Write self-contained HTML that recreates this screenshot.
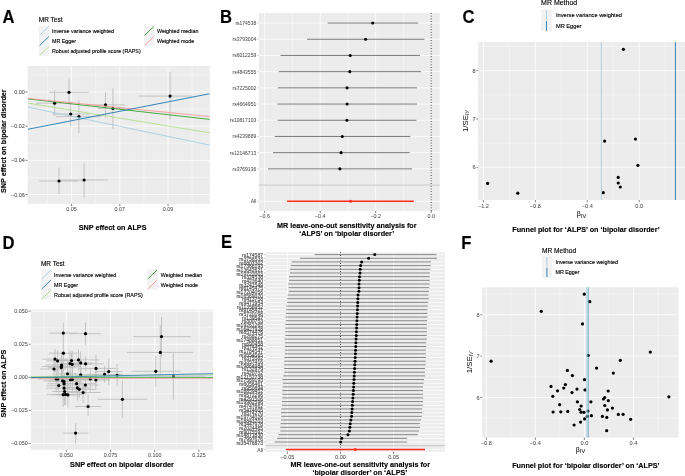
<!DOCTYPE html>
<html><head><meta charset="utf-8"><title>MR figure</title>
<style>
html,body{margin:0;padding:0;background:#fff;}
body{width:685px;height:476px;overflow:hidden;}
svg{display:block;will-change:transform;font-family:"Liberation Sans", sans-serif;}
</style></head><body>
<svg xmlns="http://www.w3.org/2000/svg" width="685" height="476" viewBox="0 0 685 476">
<rect x="0" y="0" width="685" height="476" fill="#fff"/>
<text x="2.6" y="22.7" font-size="16.6" text-anchor="start" fill="#000" stroke="#000" stroke-width="0.13" font-weight="bold" transform="translate(0 -1.005) scale(1 1.06)">A</text>
<text x="38.8" y="21.7" font-size="6.5" text-anchor="start" fill="#000" stroke="#000" stroke-width="0.13" transform="translate(0 -1.162) scale(1 1.06)">MR Test</text>
<rect x="39" y="25.9" width="10.4" height="30.3" fill="#F2F2F2"/>
<line x1="39.6" y1="35.4" x2="48.8" y2="26.5" stroke="#a6cee3" stroke-width="0.9"/>
<text x="52" y="32.87" font-size="5.35" text-anchor="start" fill="#000" stroke="#000" stroke-width="0.13" transform="translate(0 -1.857) scale(1 1.06)">Inverse variance weighted</text>
<line x1="39.6" y1="45.5" x2="48.8" y2="36.6" stroke="#1f78b4" stroke-width="0.9"/>
<text x="52" y="42.97" font-size="5.35" text-anchor="start" fill="#000" stroke="#000" stroke-width="0.13" transform="translate(0 -2.463) scale(1 1.06)">MR Egger</text>
<line x1="39.6" y1="55.6" x2="48.8" y2="46.7" stroke="#b2df8a" stroke-width="0.9"/>
<text x="52" y="53.07" font-size="5.35" text-anchor="start" fill="#000" stroke="#000" stroke-width="0.13" transform="translate(0 -3.069) scale(1 1.06)">Robust adjusted profile score (RAPS)</text>
<rect x="144" y="25.9" width="10.4" height="20.2" fill="#F2F2F2"/>
<line x1="144.6" y1="35.4" x2="153.8" y2="26.5" stroke="#33a02c" stroke-width="0.9"/>
<text x="157" y="32.87" font-size="5.35" text-anchor="start" fill="#000" stroke="#000" stroke-width="0.13" transform="translate(0 -1.857) scale(1 1.06)">Weighted median</text>
<line x1="144.6" y1="45.5" x2="153.8" y2="36.6" stroke="#fb9a99" stroke-width="0.9"/>
<text x="157" y="42.97" font-size="5.35" text-anchor="start" fill="#000" stroke="#000" stroke-width="0.13" transform="translate(0 -2.463) scale(1 1.06)">Weighted mode</text>
<rect x="27.7" y="66" width="182.1" height="137.8" fill="#EBECEB"/>
<line x1="47.5" y1="66" x2="47.5" y2="203.8" stroke="#fff" stroke-width="0.4"/>
<line x1="95.7" y1="66" x2="95.7" y2="203.8" stroke="#fff" stroke-width="0.4"/>
<line x1="143.9" y1="66" x2="143.9" y2="203.8" stroke="#fff" stroke-width="0.4"/>
<line x1="192.1" y1="66" x2="192.1" y2="203.8" stroke="#fff" stroke-width="0.4"/>
<line x1="27.7" y1="74.92" x2="209.8" y2="74.92" stroke="#fff" stroke-width="0.4"/>
<line x1="27.7" y1="109.08" x2="209.8" y2="109.08" stroke="#fff" stroke-width="0.4"/>
<line x1="27.7" y1="143.24" x2="209.8" y2="143.24" stroke="#fff" stroke-width="0.4"/>
<line x1="27.7" y1="177.4" x2="209.8" y2="177.4" stroke="#fff" stroke-width="0.4"/>
<line x1="71.6" y1="66" x2="71.6" y2="203.8" stroke="#fff" stroke-width="0.8"/>
<line x1="119.8" y1="66" x2="119.8" y2="203.8" stroke="#fff" stroke-width="0.8"/>
<line x1="168" y1="66" x2="168" y2="203.8" stroke="#fff" stroke-width="0.8"/>
<line x1="27.7" y1="92" x2="209.8" y2="92" stroke="#fff" stroke-width="0.8"/>
<line x1="27.7" y1="126.16" x2="209.8" y2="126.16" stroke="#fff" stroke-width="0.8"/>
<line x1="27.7" y1="160.32" x2="209.8" y2="160.32" stroke="#fff" stroke-width="0.8"/>
<line x1="27.7" y1="194.48" x2="209.8" y2="194.48" stroke="#fff" stroke-width="0.8"/>
<clipPath id="ca"><rect x="27.7" y="66" width="182.1" height="137.8"/></clipPath>
<g clip-path="url(#ca)">
<line x1="36.2" y1="103.2" x2="73" y2="103.2" stroke="#BEBEBE" stroke-width="0.9"/>
<line x1="54.6" y1="90.2" x2="54.6" y2="115.8" stroke="#BEBEBE" stroke-width="0.9"/>
<line x1="48.9" y1="92.3" x2="88.8" y2="92.3" stroke="#BEBEBE" stroke-width="0.9"/>
<line x1="69" y1="78.5" x2="69" y2="104.5" stroke="#BEBEBE" stroke-width="0.9"/>
<line x1="52.3" y1="114.1" x2="89.6" y2="114.1" stroke="#BEBEBE" stroke-width="0.9"/>
<line x1="70.7" y1="101.4" x2="70.7" y2="126.7" stroke="#BEBEBE" stroke-width="0.9"/>
<line x1="55.8" y1="116.6" x2="101.4" y2="116.6" stroke="#BEBEBE" stroke-width="0.9"/>
<line x1="78.9" y1="100.3" x2="78.9" y2="133.1" stroke="#BEBEBE" stroke-width="0.9"/>
<line x1="83.6" y1="104.9" x2="125" y2="104.9" stroke="#BEBEBE" stroke-width="0.9"/>
<line x1="105.5" y1="92.1" x2="105.5" y2="117.5" stroke="#BEBEBE" stroke-width="0.9"/>
<line x1="98" y1="108.5" x2="125" y2="108.5" stroke="#BEBEBE" stroke-width="0.9"/>
<line x1="112.9" y1="88.3" x2="112.9" y2="128.8" stroke="#BEBEBE" stroke-width="0.9"/>
<line x1="138.9" y1="96.1" x2="192" y2="96.1" stroke="#BEBEBE" stroke-width="0.9"/>
<line x1="170.1" y1="72.1" x2="170.1" y2="119.7" stroke="#BEBEBE" stroke-width="0.9"/>
<line x1="39.3" y1="181" x2="78.7" y2="181" stroke="#BEBEBE" stroke-width="0.9"/>
<line x1="59" y1="167.5" x2="59" y2="194.4" stroke="#BEBEBE" stroke-width="0.9"/>
<line x1="60.3" y1="180" x2="108.2" y2="180" stroke="#BEBEBE" stroke-width="0.9"/>
<line x1="84.1" y1="162.8" x2="84.1" y2="197.4" stroke="#BEBEBE" stroke-width="0.9"/>
<circle cx="54.6" cy="103.2" r="1.6" fill="#000"/>
<circle cx="69" cy="92.3" r="1.6" fill="#000"/>
<circle cx="70.7" cy="114.1" r="1.6" fill="#000"/>
<circle cx="78.9" cy="116.6" r="1.6" fill="#000"/>
<circle cx="105.5" cy="104.9" r="1.6" fill="#000"/>
<circle cx="112.9" cy="108.5" r="1.6" fill="#000"/>
<circle cx="170.1" cy="96.1" r="1.6" fill="#000"/>
<circle cx="59" cy="181" r="1.6" fill="#000"/>
<circle cx="84.1" cy="180" r="1.6" fill="#000"/>
<line x1="27.7" y1="107.1" x2="209.8" y2="145.1" stroke="#a6cee3" stroke-width="0.9"/>
<line x1="27.7" y1="103.1" x2="209.8" y2="132.8" stroke="#b2df8a" stroke-width="0.9"/>
<line x1="27.7" y1="98.9" x2="209.8" y2="119.4" stroke="#33a02c" stroke-width="0.9"/>
<line x1="27.7" y1="98.4" x2="209.8" y2="116.6" stroke="#fb9a99" stroke-width="0.9"/>
<line x1="27.7" y1="129.3" x2="209.8" y2="93.7" stroke="#1f78b4" stroke-width="0.9"/>
</g>
<text x="24.9" y="93.97" font-size="5.5" text-anchor="end" fill="#4D4D4D" stroke="#4D4D4D" stroke-width="0.04" transform="translate(0 -5.520) scale(1 1.06)">0.00</text>
<line x1="25.5" y1="92" x2="27.7" y2="92" stroke="#333333" stroke-width="0.6"/>
<text x="24.9" y="128.13" font-size="5.5" text-anchor="end" fill="#4D4D4D" stroke="#4D4D4D" stroke-width="0.04" transform="translate(0 -7.570) scale(1 1.06)">−0.02</text>
<line x1="25.5" y1="126.16" x2="27.7" y2="126.16" stroke="#333333" stroke-width="0.6"/>
<text x="24.9" y="162.29" font-size="5.5" text-anchor="end" fill="#4D4D4D" stroke="#4D4D4D" stroke-width="0.04" transform="translate(0 -9.619) scale(1 1.06)">−0.04</text>
<line x1="25.5" y1="160.32" x2="27.7" y2="160.32" stroke="#333333" stroke-width="0.6"/>
<text x="24.9" y="196.45" font-size="5.5" text-anchor="end" fill="#4D4D4D" stroke="#4D4D4D" stroke-width="0.04" transform="translate(0 -11.669) scale(1 1.06)">−0.06</text>
<line x1="25.5" y1="194.48" x2="27.7" y2="194.48" stroke="#333333" stroke-width="0.6"/>
<text x="71.6" y="210.73" font-size="5.4" text-anchor="middle" fill="#4D4D4D" stroke="#4D4D4D" stroke-width="0.04" transform="translate(0 -12.528) scale(1 1.06)">0.05</text>
<line x1="71.6" y1="203.8" x2="71.6" y2="206.1" stroke="#333333" stroke-width="0.6"/>
<text x="119.8" y="210.73" font-size="5.4" text-anchor="middle" fill="#4D4D4D" stroke="#4D4D4D" stroke-width="0.04" transform="translate(0 -12.528) scale(1 1.06)">0.07</text>
<line x1="119.8" y1="203.8" x2="119.8" y2="206.1" stroke="#333333" stroke-width="0.6"/>
<text x="168" y="210.73" font-size="5.4" text-anchor="middle" fill="#4D4D4D" stroke="#4D4D4D" stroke-width="0.04" transform="translate(0 -12.528) scale(1 1.06)">0.09</text>
<line x1="168" y1="203.8" x2="168" y2="206.1" stroke="#333333" stroke-width="0.6"/>
<text x="112.6" y="229.79" font-size="7.23" text-anchor="middle" fill="#000" stroke="#000" stroke-width="0.13" font-weight="bold" transform="translate(0 -13.632) scale(1 1.06)">SNP effect on ALPS</text>
<text x="6.1" y="141.2" font-size="7.23" text-anchor="middle" fill="#000" stroke="#000" stroke-width="0.13" font-weight="bold" transform="rotate(-90 6.1 141.2)">SNP effect on bipolar disorder</text>
<text x="219.9" y="22.7" font-size="16.6" text-anchor="start" fill="#000" stroke="#000" stroke-width="0.13" font-weight="bold" transform="translate(0 -1.005) scale(1 1.06)">B</text>
<rect x="258.8" y="13" width="180.9" height="197.8" fill="#EBECEB"/>
<line x1="292.45" y1="13" x2="292.45" y2="210.8" stroke="#fff" stroke-width="0.4"/>
<line x1="347.95" y1="13" x2="347.95" y2="210.8" stroke="#fff" stroke-width="0.4"/>
<line x1="403.45" y1="13" x2="403.45" y2="210.8" stroke="#fff" stroke-width="0.4"/>
<line x1="264.7" y1="13" x2="264.7" y2="210.8" stroke="#fff" stroke-width="0.8"/>
<line x1="320.2" y1="13" x2="320.2" y2="210.8" stroke="#fff" stroke-width="0.8"/>
<line x1="375.7" y1="13" x2="375.7" y2="210.8" stroke="#fff" stroke-width="0.8"/>
<line x1="431.2" y1="13" x2="431.2" y2="210.8" stroke="#fff" stroke-width="0.8"/>
<line x1="258.8" y1="23.05" x2="439.7" y2="23.05" stroke="#fff" stroke-width="0.8"/>
<line x1="258.8" y1="39.25" x2="439.7" y2="39.25" stroke="#fff" stroke-width="0.8"/>
<line x1="258.8" y1="55.45" x2="439.7" y2="55.45" stroke="#fff" stroke-width="0.8"/>
<line x1="258.8" y1="71.65" x2="439.7" y2="71.65" stroke="#fff" stroke-width="0.8"/>
<line x1="258.8" y1="87.85" x2="439.7" y2="87.85" stroke="#fff" stroke-width="0.8"/>
<line x1="258.8" y1="104.05" x2="439.7" y2="104.05" stroke="#fff" stroke-width="0.8"/>
<line x1="258.8" y1="120.25" x2="439.7" y2="120.25" stroke="#fff" stroke-width="0.8"/>
<line x1="258.8" y1="136.45" x2="439.7" y2="136.45" stroke="#fff" stroke-width="0.8"/>
<line x1="258.8" y1="152.65" x2="439.7" y2="152.65" stroke="#fff" stroke-width="0.8"/>
<line x1="258.8" y1="168.85" x2="439.7" y2="168.85" stroke="#fff" stroke-width="0.8"/>
<line x1="258.8" y1="185.05" x2="439.7" y2="185.05" stroke="#fff" stroke-width="0.8"/>
<line x1="258.8" y1="201.25" x2="439.7" y2="201.25" stroke="#fff" stroke-width="0.8"/>
<line x1="431.2" y1="13" x2="431.2" y2="210.8" stroke="#111" stroke-width="0.9" stroke-dasharray="0.9 1.8"/>
<line x1="258.8" y1="185.05" x2="439.7" y2="185.05" stroke="#BEBEBE" stroke-width="0.9"/>
<line x1="327.7" y1="23.05" x2="418.2" y2="23.05" stroke="#7a7a7a" stroke-width="1"/>
<circle cx="372.7" cy="23.05" r="1.55" fill="#000"/>
<line x1="307" y1="39.25" x2="424.5" y2="39.25" stroke="#7a7a7a" stroke-width="1"/>
<circle cx="365.6" cy="39.25" r="1.55" fill="#000"/>
<line x1="280.5" y1="55.45" x2="420" y2="55.45" stroke="#7a7a7a" stroke-width="1"/>
<circle cx="350.2" cy="55.45" r="1.55" fill="#000"/>
<line x1="278.8" y1="71.65" x2="421.1" y2="71.65" stroke="#7a7a7a" stroke-width="1"/>
<circle cx="349.8" cy="71.65" r="1.55" fill="#000"/>
<line x1="277.8" y1="87.85" x2="417" y2="87.85" stroke="#7a7a7a" stroke-width="1"/>
<circle cx="347.1" cy="87.85" r="1.55" fill="#000"/>
<line x1="277.4" y1="104.05" x2="417" y2="104.05" stroke="#7a7a7a" stroke-width="1"/>
<circle cx="347.1" cy="104.05" r="1.55" fill="#000"/>
<line x1="277.6" y1="120.25" x2="416.5" y2="120.25" stroke="#7a7a7a" stroke-width="1"/>
<circle cx="346.9" cy="120.25" r="1.55" fill="#000"/>
<line x1="274.7" y1="136.45" x2="410.4" y2="136.45" stroke="#7a7a7a" stroke-width="1"/>
<circle cx="342.3" cy="136.45" r="1.55" fill="#000"/>
<line x1="273" y1="152.65" x2="409.7" y2="152.65" stroke="#7a7a7a" stroke-width="1"/>
<circle cx="341.1" cy="152.65" r="1.55" fill="#000"/>
<line x1="268" y1="168.85" x2="412.1" y2="168.85" stroke="#7a7a7a" stroke-width="1"/>
<circle cx="339.9" cy="168.85" r="1.55" fill="#000"/>
<line x1="287.1" y1="201.25" x2="413.8" y2="201.25" stroke="#ff2a1a" stroke-width="1.5"/>
<circle cx="350.5" cy="201.25" r="1.55" fill="#ff2a1a"/>
<text x="256.2" y="24.84" font-size="5" text-anchor="end" fill="#4D4D4D" stroke="#4D4D4D" stroke-width="0.04" transform="translate(0 -1.383) scale(1 1.06)">rs174538</text>
<text x="256.2" y="41.04" font-size="5" text-anchor="end" fill="#4D4D4D" stroke="#4D4D4D" stroke-width="0.04" transform="translate(0 -2.355) scale(1 1.06)">rs3793004</text>
<text x="256.2" y="57.24" font-size="5" text-anchor="end" fill="#4D4D4D" stroke="#4D4D4D" stroke-width="0.04" transform="translate(0 -3.327) scale(1 1.06)">rs6012259</text>
<text x="256.2" y="73.44" font-size="5" text-anchor="end" fill="#4D4D4D" stroke="#4D4D4D" stroke-width="0.04" transform="translate(0 -4.299) scale(1 1.06)">rs4843555</text>
<text x="256.2" y="89.64" font-size="5" text-anchor="end" fill="#4D4D4D" stroke="#4D4D4D" stroke-width="0.04" transform="translate(0 -5.271) scale(1 1.06)">rs7225002</text>
<text x="256.2" y="105.84" font-size="5" text-anchor="end" fill="#4D4D4D" stroke="#4D4D4D" stroke-width="0.04" transform="translate(0 -6.243) scale(1 1.06)">rs4664951</text>
<text x="256.2" y="122.04" font-size="5" text-anchor="end" fill="#4D4D4D" stroke="#4D4D4D" stroke-width="0.04" transform="translate(0 -7.215) scale(1 1.06)">rs10817103</text>
<text x="256.2" y="138.24" font-size="5" text-anchor="end" fill="#4D4D4D" stroke="#4D4D4D" stroke-width="0.04" transform="translate(0 -8.187) scale(1 1.06)">rs4239889</text>
<text x="256.2" y="154.44" font-size="5" text-anchor="end" fill="#4D4D4D" stroke="#4D4D4D" stroke-width="0.04" transform="translate(0 -9.159) scale(1 1.06)">rs12146713</text>
<text x="256.2" y="170.64" font-size="5" text-anchor="end" fill="#4D4D4D" stroke="#4D4D4D" stroke-width="0.04" transform="translate(0 -10.131) scale(1 1.06)">rs3769136</text>
<text x="256.2" y="203.04" font-size="5" text-anchor="end" fill="#4D4D4D" stroke="#4D4D4D" stroke-width="0.04" transform="translate(0 -12.075) scale(1 1.06)">All</text>
<line x1="257.2" y1="23.05" x2="258.8" y2="23.05" stroke="#c4c4c4" stroke-width="0.6"/>
<line x1="257.2" y1="39.25" x2="258.8" y2="39.25" stroke="#c4c4c4" stroke-width="0.6"/>
<line x1="257.2" y1="55.45" x2="258.8" y2="55.45" stroke="#c4c4c4" stroke-width="0.6"/>
<line x1="257.2" y1="71.65" x2="258.8" y2="71.65" stroke="#c4c4c4" stroke-width="0.6"/>
<line x1="257.2" y1="87.85" x2="258.8" y2="87.85" stroke="#c4c4c4" stroke-width="0.6"/>
<line x1="257.2" y1="104.05" x2="258.8" y2="104.05" stroke="#c4c4c4" stroke-width="0.6"/>
<line x1="257.2" y1="120.25" x2="258.8" y2="120.25" stroke="#c4c4c4" stroke-width="0.6"/>
<line x1="257.2" y1="136.45" x2="258.8" y2="136.45" stroke="#c4c4c4" stroke-width="0.6"/>
<line x1="257.2" y1="152.65" x2="258.8" y2="152.65" stroke="#c4c4c4" stroke-width="0.6"/>
<line x1="257.2" y1="168.85" x2="258.8" y2="168.85" stroke="#c4c4c4" stroke-width="0.6"/>
<line x1="257.2" y1="201.25" x2="258.8" y2="201.25" stroke="#c4c4c4" stroke-width="0.6"/>
<text x="264.7" y="218.13" font-size="5.4" text-anchor="middle" fill="#4D4D4D" stroke="#4D4D4D" stroke-width="0.04" transform="translate(0 -12.972) scale(1 1.06)">−0.6</text>
<line x1="264.7" y1="210.8" x2="264.7" y2="213.1" stroke="#333333" stroke-width="0.6"/>
<text x="320.2" y="218.13" font-size="5.4" text-anchor="middle" fill="#4D4D4D" stroke="#4D4D4D" stroke-width="0.04" transform="translate(0 -12.972) scale(1 1.06)">−0.4</text>
<line x1="320.2" y1="210.8" x2="320.2" y2="213.1" stroke="#333333" stroke-width="0.6"/>
<text x="375.7" y="218.13" font-size="5.4" text-anchor="middle" fill="#4D4D4D" stroke="#4D4D4D" stroke-width="0.04" transform="translate(0 -12.972) scale(1 1.06)">−0.2</text>
<line x1="375.7" y1="210.8" x2="375.7" y2="213.1" stroke="#333333" stroke-width="0.6"/>
<text x="431.2" y="218.13" font-size="5.4" text-anchor="middle" fill="#4D4D4D" stroke="#4D4D4D" stroke-width="0.04" transform="translate(0 -12.972) scale(1 1.06)">0.0</text>
<line x1="431.2" y1="210.8" x2="431.2" y2="213.1" stroke="#333333" stroke-width="0.6"/>
<text x="346.8" y="227.39" font-size="7.23" text-anchor="middle" fill="#000" stroke="#000" stroke-width="0.13" font-weight="bold" transform="translate(0 -13.488) scale(1 1.06)">MR leave-one-out sensitivity analysis for</text>
<text x="346.7" y="235.99" font-size="7.23" text-anchor="middle" fill="#000" stroke="#000" stroke-width="0.13" font-weight="bold" transform="translate(0 -14.004) scale(1 1.06)">‘ALPS’ on ‘bipolar disorder’</text>
<text x="462.6" y="23" font-size="16.6" text-anchor="start" fill="#000" stroke="#000" stroke-width="0.13" font-weight="bold" transform="translate(0 -1.023) scale(1 1.06)">C</text>
<rect x="478.2" y="42.1" width="206.8" height="157.9" fill="#EBECEB"/>
<line x1="509.4" y1="42.1" x2="509.4" y2="200" stroke="#fff" stroke-width="0.4"/>
<line x1="561.32" y1="42.1" x2="561.32" y2="200" stroke="#fff" stroke-width="0.4"/>
<line x1="613.24" y1="42.1" x2="613.24" y2="200" stroke="#fff" stroke-width="0.4"/>
<line x1="665.16" y1="42.1" x2="665.16" y2="200" stroke="#fff" stroke-width="0.4"/>
<line x1="478.2" y1="46.43" x2="685" y2="46.43" stroke="#fff" stroke-width="0.4"/>
<line x1="478.2" y1="94.78" x2="685" y2="94.78" stroke="#fff" stroke-width="0.4"/>
<line x1="478.2" y1="143.12" x2="685" y2="143.12" stroke="#fff" stroke-width="0.4"/>
<line x1="483.44" y1="42.1" x2="483.44" y2="200" stroke="#fff" stroke-width="0.8"/>
<line x1="535.36" y1="42.1" x2="535.36" y2="200" stroke="#fff" stroke-width="0.8"/>
<line x1="587.28" y1="42.1" x2="587.28" y2="200" stroke="#fff" stroke-width="0.8"/>
<line x1="639.2" y1="42.1" x2="639.2" y2="200" stroke="#fff" stroke-width="0.8"/>
<line x1="478.2" y1="70.6" x2="685" y2="70.6" stroke="#fff" stroke-width="0.8"/>
<line x1="478.2" y1="118.95" x2="685" y2="118.95" stroke="#fff" stroke-width="0.8"/>
<line x1="478.2" y1="167.3" x2="685" y2="167.3" stroke="#fff" stroke-width="0.8"/>
<circle cx="623.4" cy="49.3" r="1.6" fill="#000"/>
<circle cx="604.6" cy="141.1" r="1.6" fill="#000"/>
<circle cx="635.4" cy="139.1" r="1.6" fill="#000"/>
<circle cx="637.9" cy="165.3" r="1.6" fill="#000"/>
<circle cx="618.2" cy="177.4" r="1.6" fill="#000"/>
<circle cx="618.2" cy="183" r="1.6" fill="#000"/>
<circle cx="620.3" cy="187" r="1.6" fill="#000"/>
<circle cx="603.3" cy="192.7" r="1.6" fill="#000"/>
<circle cx="487.6" cy="183.4" r="1.6" fill="#000"/>
<circle cx="517.8" cy="193.2" r="1.6" fill="#000"/>
<line x1="601.4" y1="42.1" x2="601.4" y2="200" stroke="#a6cee3" stroke-width="0.9"/>
<line x1="675.4" y1="42.1" x2="675.4" y2="200" stroke="#1f78b4" stroke-width="0.9"/>
<text x="475.6" y="72.6" font-size="5.6" text-anchor="end" fill="#4D4D4D" stroke="#4D4D4D" stroke-width="0.04" transform="translate(0 -4.236) scale(1 1.06)">8</text>
<line x1="476.4" y1="70.6" x2="478.2" y2="70.6" stroke="#333333" stroke-width="0.6"/>
<text x="475.6" y="120.95" font-size="5.6" text-anchor="end" fill="#4D4D4D" stroke="#4D4D4D" stroke-width="0.04" transform="translate(0 -7.137) scale(1 1.06)">7</text>
<line x1="476.4" y1="118.95" x2="478.2" y2="118.95" stroke="#333333" stroke-width="0.6"/>
<text x="475.6" y="169.3" font-size="5.6" text-anchor="end" fill="#4D4D4D" stroke="#4D4D4D" stroke-width="0.04" transform="translate(0 -10.038) scale(1 1.06)">6</text>
<line x1="476.4" y1="167.3" x2="478.2" y2="167.3" stroke="#333333" stroke-width="0.6"/>
<text x="483.44" y="208" font-size="5.6" text-anchor="middle" fill="#4D4D4D" stroke="#4D4D4D" stroke-width="0.04" transform="translate(0 -12.360) scale(1 1.06)">−1.2</text>
<line x1="483.44" y1="200" x2="483.44" y2="202.3" stroke="#333333" stroke-width="0.6"/>
<text x="535.36" y="208" font-size="5.6" text-anchor="middle" fill="#4D4D4D" stroke="#4D4D4D" stroke-width="0.04" transform="translate(0 -12.360) scale(1 1.06)">−0.8</text>
<line x1="535.36" y1="200" x2="535.36" y2="202.3" stroke="#333333" stroke-width="0.6"/>
<text x="587.28" y="208" font-size="5.6" text-anchor="middle" fill="#4D4D4D" stroke="#4D4D4D" stroke-width="0.04" transform="translate(0 -12.360) scale(1 1.06)">−0.4</text>
<line x1="587.28" y1="200" x2="587.28" y2="202.3" stroke="#333333" stroke-width="0.6"/>
<text x="639.2" y="208" font-size="5.6" text-anchor="middle" fill="#4D4D4D" stroke="#4D4D4D" stroke-width="0.04" transform="translate(0 -12.360) scale(1 1.06)">0.0</text>
<line x1="639.2" y1="200" x2="639.2" y2="202.3" stroke="#333333" stroke-width="0.6"/>
<text x="541.1" y="5.2" font-size="7" text-anchor="start" fill="#000" stroke="#000" stroke-width="0.13" transform="translate(0 -0.162) scale(1 1.06)">MR Method</text>
<rect x="541.1" y="9.5" width="10.7" height="21.8" fill="#F2F2F2"/>
<line x1="546.45" y1="10.1" x2="546.45" y2="19.8" stroke="#a6cee3" stroke-width="0.9"/>
<line x1="546.45" y1="21" x2="546.45" y2="30.7" stroke="#1f78b4" stroke-width="0.9"/>
<text x="555.9" y="16.99" font-size="5.7" text-anchor="start" fill="#000" stroke="#000" stroke-width="0.13" transform="translate(0 -0.897) scale(1 1.06)">Inverse variance weighted</text>
<text x="555.9" y="27.89" font-size="5.7" text-anchor="start" fill="#000" stroke="#000" stroke-width="0.13" transform="translate(0 -1.551) scale(1 1.06)">MR Egger</text>
<text transform="translate(467.9,121.2) rotate(-90)" font-size="7.8" text-anchor="middle" fill="#000">1/SE<tspan font-size="4.9" font-style="italic" dy="1.1">IV</tspan></text>
<text x="581.5" y="216.0" font-size="7.0" text-anchor="middle" fill="#222" stroke="#222" stroke-width="0.1">β<tspan font-size="5.6" dy="1.5">IV</tspan></text>
<text x="586" y="231.49" font-size="7.23" text-anchor="middle" fill="#000" stroke="#000" stroke-width="0.13" font-weight="bold" transform="translate(0 -13.734) scale(1 1.06)">Funnel plot for ‘ALPS’ on ‘bipolar disorder’</text>
<text x="2.6" y="248.4" font-size="16.6" text-anchor="start" fill="#000" stroke="#000" stroke-width="0.13" font-weight="bold" transform="translate(0 -14.547) scale(1 1.06)">D</text>
<text x="40.9" y="265.9" font-size="6.5" text-anchor="start" fill="#000" stroke="#000" stroke-width="0.13" transform="translate(0 -15.814) scale(1 1.06)">MR Test</text>
<rect x="41.1" y="269.4" width="10.4" height="30.3" fill="#F2F2F2"/>
<line x1="41.7" y1="278.9" x2="50.9" y2="270" stroke="#a6cee3" stroke-width="0.9"/>
<text x="54.1" y="277.07" font-size="5.35" text-anchor="start" fill="#000" stroke="#000" stroke-width="0.13" transform="translate(0 -16.509) scale(1 1.06)">Inverse variance weighted</text>
<line x1="41.7" y1="289" x2="50.9" y2="280.1" stroke="#1f78b4" stroke-width="0.9"/>
<text x="54.1" y="287.17" font-size="5.35" text-anchor="start" fill="#000" stroke="#000" stroke-width="0.13" transform="translate(0 -17.115) scale(1 1.06)">MR Egger</text>
<line x1="41.7" y1="299.1" x2="50.9" y2="290.2" stroke="#b2df8a" stroke-width="0.9"/>
<text x="54.1" y="297.27" font-size="5.35" text-anchor="start" fill="#000" stroke="#000" stroke-width="0.13" transform="translate(0 -17.721) scale(1 1.06)">Robust adjusted profile score (RAPS)</text>
<rect x="147.2" y="269.4" width="10.4" height="20.2" fill="#F2F2F2"/>
<line x1="147.8" y1="278.9" x2="157" y2="270" stroke="#33a02c" stroke-width="0.9"/>
<text x="160.8" y="277.07" font-size="5.35" text-anchor="start" fill="#000" stroke="#000" stroke-width="0.13" transform="translate(0 -16.509) scale(1 1.06)">Weighted median</text>
<line x1="147.8" y1="289" x2="157" y2="280.1" stroke="#fb9a99" stroke-width="0.9"/>
<text x="160.8" y="287.17" font-size="5.35" text-anchor="start" fill="#000" stroke="#000" stroke-width="0.13" transform="translate(0 -17.115) scale(1 1.06)">Weighted mode</text>
<rect x="30.8" y="309.6" width="182.3" height="140.2" fill="#EBECEB"/>
<line x1="44.2" y1="309.6" x2="44.2" y2="449.8" stroke="#fff" stroke-width="0.4"/>
<line x1="88.4" y1="309.6" x2="88.4" y2="449.8" stroke="#fff" stroke-width="0.4"/>
<line x1="132.6" y1="309.6" x2="132.6" y2="449.8" stroke="#fff" stroke-width="0.4"/>
<line x1="176.8" y1="309.6" x2="176.8" y2="449.8" stroke="#fff" stroke-width="0.4"/>
<line x1="30.8" y1="327.69" x2="213.1" y2="327.69" stroke="#fff" stroke-width="0.4"/>
<line x1="30.8" y1="360.76" x2="213.1" y2="360.76" stroke="#fff" stroke-width="0.4"/>
<line x1="30.8" y1="393.84" x2="213.1" y2="393.84" stroke="#fff" stroke-width="0.4"/>
<line x1="30.8" y1="426.91" x2="213.1" y2="426.91" stroke="#fff" stroke-width="0.4"/>
<line x1="66.3" y1="309.6" x2="66.3" y2="449.8" stroke="#fff" stroke-width="0.8"/>
<line x1="110.5" y1="309.6" x2="110.5" y2="449.8" stroke="#fff" stroke-width="0.8"/>
<line x1="154.7" y1="309.6" x2="154.7" y2="449.8" stroke="#fff" stroke-width="0.8"/>
<line x1="198.9" y1="309.6" x2="198.9" y2="449.8" stroke="#fff" stroke-width="0.8"/>
<line x1="30.8" y1="311.15" x2="213.1" y2="311.15" stroke="#fff" stroke-width="0.8"/>
<line x1="30.8" y1="344.23" x2="213.1" y2="344.23" stroke="#fff" stroke-width="0.8"/>
<line x1="30.8" y1="377.3" x2="213.1" y2="377.3" stroke="#fff" stroke-width="0.8"/>
<line x1="30.8" y1="410.38" x2="213.1" y2="410.38" stroke="#fff" stroke-width="0.8"/>
<line x1="30.8" y1="443.45" x2="213.1" y2="443.45" stroke="#fff" stroke-width="0.8"/>
<clipPath id="cd"><rect x="30.8" y="309.6" width="182.3" height="140.2"/></clipPath>
<g clip-path="url(#cd)">
<line x1="49.3" y1="333.1" x2="77.6" y2="333.1" stroke="#BDBDBD" stroke-width="0.85"/>
<line x1="63.3" y1="322.6" x2="63.3" y2="345.3" stroke="#BDBDBD" stroke-width="0.85"/>
<line x1="70" y1="333.7" x2="100.6" y2="333.7" stroke="#BDBDBD" stroke-width="0.85"/>
<line x1="85.5" y1="322.3" x2="85.5" y2="345.3" stroke="#BDBDBD" stroke-width="0.85"/>
<line x1="48.9" y1="353.2" x2="77.9" y2="353.2" stroke="#BDBDBD" stroke-width="0.85"/>
<line x1="63.4" y1="345" x2="63.4" y2="372" stroke="#BDBDBD" stroke-width="0.85"/>
<line x1="42.2" y1="359.1" x2="68" y2="359.1" stroke="#BDBDBD" stroke-width="0.85"/>
<line x1="55" y1="349" x2="55" y2="372" stroke="#BDBDBD" stroke-width="0.85"/>
<line x1="46.32" y1="360.9" x2="70.98" y2="360.9" stroke="#BDBDBD" stroke-width="0.85"/>
<line x1="57.6" y1="350.09" x2="57.6" y2="372.32" stroke="#BDBDBD" stroke-width="0.85"/>
<line x1="60.3" y1="360.6" x2="81.92" y2="360.6" stroke="#BDBDBD" stroke-width="0.85"/>
<line x1="71.5" y1="353.51" x2="71.5" y2="367.4" stroke="#BDBDBD" stroke-width="0.85"/>
<line x1="57.53" y1="359.9" x2="99.31" y2="359.9" stroke="#BDBDBD" stroke-width="0.85"/>
<line x1="78.5" y1="349.61" x2="78.5" y2="370.81" stroke="#BDBDBD" stroke-width="0.85"/>
<line x1="68.5" y1="362.9" x2="92.86" y2="362.9" stroke="#BDBDBD" stroke-width="0.85"/>
<line x1="80.7" y1="351.46" x2="80.7" y2="375.32" stroke="#BDBDBD" stroke-width="0.85"/>
<line x1="68.43" y1="363.8" x2="103.61" y2="363.8" stroke="#BDBDBD" stroke-width="0.85"/>
<line x1="85.6" y1="356.35" x2="85.6" y2="371.06" stroke="#BDBDBD" stroke-width="0.85"/>
<line x1="60.29" y1="363.5" x2="81.5" y2="363.5" stroke="#BDBDBD" stroke-width="0.85"/>
<line x1="70" y1="350.44" x2="70" y2="378.12" stroke="#BDBDBD" stroke-width="0.85"/>
<line x1="56.46" y1="364.3" x2="91.75" y2="364.3" stroke="#BDBDBD" stroke-width="0.85"/>
<line x1="72.2" y1="350.85" x2="72.2" y2="377.9" stroke="#BDBDBD" stroke-width="0.85"/>
<line x1="45.55" y1="365" x2="79.81" y2="365" stroke="#BDBDBD" stroke-width="0.85"/>
<line x1="61.6" y1="351.85" x2="61.6" y2="377.55" stroke="#BDBDBD" stroke-width="0.85"/>
<line x1="41.88" y1="366.5" x2="80.76" y2="366.5" stroke="#BDBDBD" stroke-width="0.85"/>
<line x1="61.3" y1="356.45" x2="61.3" y2="376.82" stroke="#BDBDBD" stroke-width="0.85"/>
<line x1="47.78" y1="367.6" x2="76.2" y2="367.6" stroke="#BDBDBD" stroke-width="0.85"/>
<line x1="61.3" y1="358.14" x2="61.3" y2="378.25" stroke="#BDBDBD" stroke-width="0.85"/>
<line x1="40" y1="369" x2="66" y2="369" stroke="#BDBDBD" stroke-width="0.85"/>
<line x1="54" y1="360" x2="54" y2="380" stroke="#BDBDBD" stroke-width="0.85"/>
<line x1="78.22" y1="368.4" x2="116.14" y2="368.4" stroke="#BDBDBD" stroke-width="0.85"/>
<line x1="96" y1="354.9" x2="96" y2="382.82" stroke="#BDBDBD" stroke-width="0.85"/>
<line x1="96.03" y1="371.6" x2="122.32" y2="371.6" stroke="#BDBDBD" stroke-width="0.85"/>
<line x1="108.7" y1="358.58" x2="108.7" y2="385.18" stroke="#BDBDBD" stroke-width="0.85"/>
<line x1="86.61" y1="374.4" x2="122.97" y2="374.4" stroke="#BDBDBD" stroke-width="0.85"/>
<line x1="104.6" y1="365.92" x2="104.6" y2="382.63" stroke="#BDBDBD" stroke-width="0.85"/>
<line x1="55.83" y1="373.8" x2="77.35" y2="373.8" stroke="#BDBDBD" stroke-width="0.85"/>
<line x1="67.5" y1="360.82" x2="67.5" y2="388.08" stroke="#BDBDBD" stroke-width="0.85"/>
<line x1="68.17" y1="374.9" x2="96.65" y2="374.9" stroke="#BDBDBD" stroke-width="0.85"/>
<line x1="80.7" y1="366.84" x2="80.7" y2="383.91" stroke="#BDBDBD" stroke-width="0.85"/>
<line x1="108.61" y1="375.3" x2="128.75" y2="375.3" stroke="#BDBDBD" stroke-width="0.85"/>
<line x1="117.1" y1="364" x2="117.1" y2="386.41" stroke="#BDBDBD" stroke-width="0.85"/>
<line x1="38.3" y1="379" x2="78.76" y2="379" stroke="#BDBDBD" stroke-width="0.85"/>
<line x1="56.2" y1="365.14" x2="56.2" y2="392.55" stroke="#BDBDBD" stroke-width="0.85"/>
<line x1="49.18" y1="379" x2="68.23" y2="379" stroke="#BDBDBD" stroke-width="0.85"/>
<line x1="57.9" y1="367.8" x2="57.9" y2="390.22" stroke="#BDBDBD" stroke-width="0.85"/>
<line x1="57.31" y1="379.7" x2="89.09" y2="379.7" stroke="#BDBDBD" stroke-width="0.85"/>
<line x1="70.4" y1="371.61" x2="70.4" y2="387.62" stroke="#BDBDBD" stroke-width="0.85"/>
<line x1="54.51" y1="379.4" x2="92.73" y2="379.4" stroke="#BDBDBD" stroke-width="0.85"/>
<line x1="72.4" y1="366.12" x2="72.4" y2="393.08" stroke="#BDBDBD" stroke-width="0.85"/>
<line x1="74.39" y1="379" x2="108.15" y2="379" stroke="#BDBDBD" stroke-width="0.85"/>
<line x1="90.3" y1="367.83" x2="90.3" y2="391.68" stroke="#BDBDBD" stroke-width="0.85"/>
<line x1="80.59" y1="380" x2="110.54" y2="380" stroke="#BDBDBD" stroke-width="0.85"/>
<line x1="95.9" y1="369.98" x2="95.9" y2="389.77" stroke="#BDBDBD" stroke-width="0.85"/>
<line x1="43.52" y1="380.9" x2="80.47" y2="380.9" stroke="#BDBDBD" stroke-width="0.85"/>
<line x1="62.6" y1="370.25" x2="62.6" y2="391.59" stroke="#BDBDBD" stroke-width="0.85"/>
<line x1="48.54" y1="381.5" x2="81.32" y2="381.5" stroke="#BDBDBD" stroke-width="0.85"/>
<line x1="64.1" y1="374.36" x2="64.1" y2="388.03" stroke="#BDBDBD" stroke-width="0.85"/>
<line x1="47.77" y1="383.8" x2="80.47" y2="383.8" stroke="#BDBDBD" stroke-width="0.85"/>
<line x1="64.1" y1="373.54" x2="64.1" y2="394.85" stroke="#BDBDBD" stroke-width="0.85"/>
<line x1="62.38" y1="383.7" x2="95.77" y2="383.7" stroke="#BDBDBD" stroke-width="0.85"/>
<line x1="76.6" y1="376.54" x2="76.6" y2="391.86" stroke="#BDBDBD" stroke-width="0.85"/>
<line x1="46.57" y1="385.6" x2="71.26" y2="385.6" stroke="#BDBDBD" stroke-width="0.85"/>
<line x1="58.8" y1="375.41" x2="58.8" y2="395.7" stroke="#BDBDBD" stroke-width="0.85"/>
<line x1="72.55" y1="385.1" x2="98.4" y2="385.1" stroke="#BDBDBD" stroke-width="0.85"/>
<line x1="85.4" y1="375.52" x2="85.4" y2="394.63" stroke="#BDBDBD" stroke-width="0.85"/>
<line x1="46.9" y1="388.1" x2="83.96" y2="388.1" stroke="#BDBDBD" stroke-width="0.85"/>
<line x1="64.1" y1="380.91" x2="64.1" y2="395.13" stroke="#BDBDBD" stroke-width="0.85"/>
<line x1="66.74" y1="387.8" x2="89.09" y2="387.8" stroke="#BDBDBD" stroke-width="0.85"/>
<line x1="77.4" y1="375.17" x2="77.4" y2="400.54" stroke="#BDBDBD" stroke-width="0.85"/>
<line x1="64.08" y1="389.3" x2="96.28" y2="389.3" stroke="#BDBDBD" stroke-width="0.85"/>
<line x1="79.3" y1="381.59" x2="79.3" y2="397.85" stroke="#BDBDBD" stroke-width="0.85"/>
<line x1="52.36" y1="391.5" x2="79" y2="391.5" stroke="#BDBDBD" stroke-width="0.85"/>
<line x1="64.6" y1="378.51" x2="64.6" y2="405.3" stroke="#BDBDBD" stroke-width="0.85"/>
<line x1="66.75" y1="392.5" x2="100.75" y2="392.5" stroke="#BDBDBD" stroke-width="0.85"/>
<line x1="83.1" y1="382.34" x2="83.1" y2="402.99" stroke="#BDBDBD" stroke-width="0.85"/>
<line x1="50.58" y1="394.7" x2="74.47" y2="394.7" stroke="#BDBDBD" stroke-width="0.85"/>
<line x1="63.1" y1="382.05" x2="63.1" y2="406.96" stroke="#BDBDBD" stroke-width="0.85"/>
<line x1="46.77" y1="394.4" x2="83.74" y2="394.4" stroke="#BDBDBD" stroke-width="0.85"/>
<line x1="65.6" y1="382.91" x2="65.6" y2="405.12" stroke="#BDBDBD" stroke-width="0.85"/>
<line x1="56.51" y1="394.9" x2="80.87" y2="394.9" stroke="#BDBDBD" stroke-width="0.85"/>
<line x1="67.9" y1="382.34" x2="67.9" y2="407.51" stroke="#BDBDBD" stroke-width="0.85"/>
<line x1="97.5" y1="399.3" x2="147.4" y2="399.3" stroke="#BDBDBD" stroke-width="0.85"/>
<line x1="122.4" y1="380.7" x2="122.4" y2="418" stroke="#BDBDBD" stroke-width="0.85"/>
<line x1="75" y1="406.5" x2="101" y2="406.5" stroke="#BDBDBD" stroke-width="0.85"/>
<line x1="88.1" y1="394" x2="88.1" y2="416.3" stroke="#BDBDBD" stroke-width="0.85"/>
<line x1="62.5" y1="433.1" x2="88.5" y2="433.1" stroke="#BDBDBD" stroke-width="0.85"/>
<line x1="75.6" y1="423" x2="75.6" y2="444" stroke="#BDBDBD" stroke-width="0.85"/>
<line x1="127" y1="352.4" x2="193.3" y2="352.4" stroke="#BDBDBD" stroke-width="0.85"/>
<line x1="160.3" y1="325.2" x2="160.3" y2="376.9" stroke="#BDBDBD" stroke-width="0.85"/>
<line x1="133.3" y1="336.6" x2="190.8" y2="336.6" stroke="#BDBDBD" stroke-width="0.85"/>
<line x1="161.5" y1="316.9" x2="161.5" y2="356.7" stroke="#BDBDBD" stroke-width="0.85"/>
<line x1="131.5" y1="371.3" x2="180.7" y2="371.3" stroke="#BDBDBD" stroke-width="0.85"/>
<line x1="155.8" y1="356" x2="155.8" y2="387" stroke="#BDBDBD" stroke-width="0.85"/>
<line x1="150" y1="376.1" x2="205" y2="376.1" stroke="#BDBDBD" stroke-width="0.85"/>
<line x1="173.4" y1="352.9" x2="173.4" y2="399.6" stroke="#BDBDBD" stroke-width="0.85"/>
<circle cx="63.3" cy="333.1" r="1.6" fill="#000"/>
<circle cx="85.5" cy="333.7" r="1.6" fill="#000"/>
<circle cx="63.4" cy="353.2" r="1.6" fill="#000"/>
<circle cx="55" cy="359.1" r="1.6" fill="#000"/>
<circle cx="57.6" cy="360.9" r="1.6" fill="#000"/>
<circle cx="71.5" cy="360.6" r="1.6" fill="#000"/>
<circle cx="78.5" cy="359.9" r="1.6" fill="#000"/>
<circle cx="80.7" cy="362.9" r="1.6" fill="#000"/>
<circle cx="85.6" cy="363.8" r="1.6" fill="#000"/>
<circle cx="70" cy="363.5" r="1.6" fill="#000"/>
<circle cx="72.2" cy="364.3" r="1.6" fill="#000"/>
<circle cx="61.6" cy="365" r="1.6" fill="#000"/>
<circle cx="61.3" cy="366.5" r="1.6" fill="#000"/>
<circle cx="61.3" cy="367.6" r="1.6" fill="#000"/>
<circle cx="54" cy="369" r="1.6" fill="#000"/>
<circle cx="96" cy="368.4" r="1.6" fill="#000"/>
<circle cx="108.7" cy="371.6" r="1.6" fill="#000"/>
<circle cx="104.6" cy="374.4" r="1.6" fill="#000"/>
<circle cx="67.5" cy="373.8" r="1.6" fill="#000"/>
<circle cx="80.7" cy="374.9" r="1.6" fill="#000"/>
<circle cx="117.1" cy="375.3" r="1.6" fill="#000"/>
<circle cx="56.2" cy="379" r="1.6" fill="#000"/>
<circle cx="57.9" cy="379" r="1.6" fill="#000"/>
<circle cx="70.4" cy="379.7" r="1.6" fill="#000"/>
<circle cx="72.4" cy="379.4" r="1.6" fill="#000"/>
<circle cx="90.3" cy="379" r="1.6" fill="#000"/>
<circle cx="95.9" cy="380" r="1.6" fill="#000"/>
<circle cx="62.6" cy="380.9" r="1.6" fill="#000"/>
<circle cx="64.1" cy="381.5" r="1.6" fill="#000"/>
<circle cx="64.1" cy="383.8" r="1.6" fill="#000"/>
<circle cx="76.6" cy="383.7" r="1.6" fill="#000"/>
<circle cx="58.8" cy="385.6" r="1.6" fill="#000"/>
<circle cx="85.4" cy="385.1" r="1.6" fill="#000"/>
<circle cx="64.1" cy="388.1" r="1.6" fill="#000"/>
<circle cx="77.4" cy="387.8" r="1.6" fill="#000"/>
<circle cx="79.3" cy="389.3" r="1.6" fill="#000"/>
<circle cx="64.6" cy="391.5" r="1.6" fill="#000"/>
<circle cx="83.1" cy="392.5" r="1.6" fill="#000"/>
<circle cx="63.1" cy="394.7" r="1.6" fill="#000"/>
<circle cx="65.6" cy="394.4" r="1.6" fill="#000"/>
<circle cx="67.9" cy="394.9" r="1.6" fill="#000"/>
<circle cx="122.4" cy="399.3" r="1.6" fill="#000"/>
<circle cx="88.1" cy="406.5" r="1.6" fill="#000"/>
<circle cx="75.6" cy="433.1" r="1.6" fill="#000"/>
<circle cx="160.3" cy="352.4" r="1.6" fill="#000"/>
<circle cx="161.5" cy="336.6" r="1.6" fill="#000"/>
<circle cx="155.8" cy="371.3" r="1.6" fill="#000"/>
<circle cx="173.4" cy="376.1" r="1.6" fill="#000"/>
<line x1="30.8" y1="377.3" x2="213.1" y2="375.8" stroke="#a6cee3" stroke-width="0.75"/>
<line x1="30.8" y1="376.6" x2="213.1" y2="374.5" stroke="#b2df8a" stroke-width="0.75"/>
<line x1="30.8" y1="377.4" x2="213.1" y2="377.5" stroke="#33a02c" stroke-width="0.75"/>
<line x1="30.8" y1="378.3" x2="213.1" y2="378.6" stroke="#fb9a99" stroke-width="0.75"/>
<line x1="30.8" y1="377.6" x2="213.1" y2="373.6" stroke="#1f78b4" stroke-width="0.75"/>
</g>
<text x="27.8" y="313.08" font-size="5.4" text-anchor="end" fill="#4D4D4D" stroke="#4D4D4D" stroke-width="0.04" transform="translate(0 -18.669) scale(1 1.06)">0.050</text>
<line x1="28.6" y1="311.15" x2="30.8" y2="311.15" stroke="#333333" stroke-width="0.6"/>
<text x="27.8" y="346.16" font-size="5.4" text-anchor="end" fill="#4D4D4D" stroke="#4D4D4D" stroke-width="0.04" transform="translate(0 -20.654) scale(1 1.06)">0.025</text>
<line x1="28.6" y1="344.23" x2="30.8" y2="344.23" stroke="#333333" stroke-width="0.6"/>
<text x="27.8" y="379.23" font-size="5.4" text-anchor="end" fill="#4D4D4D" stroke="#4D4D4D" stroke-width="0.04" transform="translate(0 -22.638) scale(1 1.06)">0.000</text>
<line x1="28.6" y1="377.3" x2="30.8" y2="377.3" stroke="#333333" stroke-width="0.6"/>
<text x="27.8" y="412.31" font-size="5.4" text-anchor="end" fill="#4D4D4D" stroke="#4D4D4D" stroke-width="0.04" transform="translate(0 -24.623) scale(1 1.06)">−0.025</text>
<line x1="28.6" y1="410.38" x2="30.8" y2="410.38" stroke="#333333" stroke-width="0.6"/>
<text x="27.8" y="445.38" font-size="5.4" text-anchor="end" fill="#4D4D4D" stroke="#4D4D4D" stroke-width="0.04" transform="translate(0 -26.607) scale(1 1.06)">−0.050</text>
<line x1="28.6" y1="443.45" x2="30.8" y2="443.45" stroke="#333333" stroke-width="0.6"/>
<text x="66.3" y="457.03" font-size="5.4" text-anchor="middle" fill="#4D4D4D" stroke="#4D4D4D" stroke-width="0.04" transform="translate(0 -27.306) scale(1 1.06)">0.050</text>
<line x1="66.3" y1="449.8" x2="66.3" y2="452.1" stroke="#333333" stroke-width="0.6"/>
<text x="110.5" y="457.03" font-size="5.4" text-anchor="middle" fill="#4D4D4D" stroke="#4D4D4D" stroke-width="0.04" transform="translate(0 -27.306) scale(1 1.06)">0.075</text>
<line x1="110.5" y1="449.8" x2="110.5" y2="452.1" stroke="#333333" stroke-width="0.6"/>
<text x="154.7" y="457.03" font-size="5.4" text-anchor="middle" fill="#4D4D4D" stroke="#4D4D4D" stroke-width="0.04" transform="translate(0 -27.306) scale(1 1.06)">0.100</text>
<line x1="154.7" y1="449.8" x2="154.7" y2="452.1" stroke="#333333" stroke-width="0.6"/>
<text x="198.9" y="457.03" font-size="5.4" text-anchor="middle" fill="#4D4D4D" stroke="#4D4D4D" stroke-width="0.04" transform="translate(0 -27.306) scale(1 1.06)">0.125</text>
<line x1="198.9" y1="449.8" x2="198.9" y2="452.1" stroke="#333333" stroke-width="0.6"/>
<text x="122" y="467.29" font-size="7.23" text-anchor="middle" fill="#000" stroke="#000" stroke-width="0.13" font-weight="bold" transform="translate(0 -27.882) scale(1 1.06)">SNP effect on bipolar disorder</text>
<text x="6.2" y="383.6" font-size="7.23" text-anchor="middle" fill="#000" stroke="#000" stroke-width="0.13" font-weight="bold" transform="rotate(-90 6.2 383.6)">SNP effect on ALPS</text>
<text x="221" y="248.1" font-size="16.6" text-anchor="start" fill="#000" stroke="#000" stroke-width="0.13" font-weight="bold" transform="translate(0 -14.529) scale(1 1.06)">E</text>
<rect x="265.6" y="252.3" width="179.3" height="199.3" fill="#EBECEB"/>
<line x1="313.95" y1="252.3" x2="313.95" y2="451.6" stroke="#fff" stroke-width="0.4"/>
<line x1="367.05" y1="252.3" x2="367.05" y2="451.6" stroke="#fff" stroke-width="0.4"/>
<line x1="420.15" y1="252.3" x2="420.15" y2="451.6" stroke="#fff" stroke-width="0.4"/>
<line x1="287.4" y1="252.3" x2="287.4" y2="451.6" stroke="#fff" stroke-width="0.8"/>
<line x1="340.5" y1="252.3" x2="340.5" y2="451.6" stroke="#fff" stroke-width="0.8"/>
<line x1="393.6" y1="252.3" x2="393.6" y2="451.6" stroke="#fff" stroke-width="0.8"/>
<line x1="265.6" y1="254.6" x2="444.9" y2="254.6" stroke="#fff" stroke-width="0.8"/>
<line x1="265.6" y1="258.27" x2="444.9" y2="258.27" stroke="#fff" stroke-width="0.8"/>
<line x1="265.6" y1="261.95" x2="444.9" y2="261.95" stroke="#fff" stroke-width="0.8"/>
<line x1="265.6" y1="265.62" x2="444.9" y2="265.62" stroke="#fff" stroke-width="0.8"/>
<line x1="265.6" y1="269.3" x2="444.9" y2="269.3" stroke="#fff" stroke-width="0.8"/>
<line x1="265.6" y1="272.98" x2="444.9" y2="272.98" stroke="#fff" stroke-width="0.8"/>
<line x1="265.6" y1="276.65" x2="444.9" y2="276.65" stroke="#fff" stroke-width="0.8"/>
<line x1="265.6" y1="280.32" x2="444.9" y2="280.32" stroke="#fff" stroke-width="0.8"/>
<line x1="265.6" y1="284" x2="444.9" y2="284" stroke="#fff" stroke-width="0.8"/>
<line x1="265.6" y1="287.68" x2="444.9" y2="287.68" stroke="#fff" stroke-width="0.8"/>
<line x1="265.6" y1="291.35" x2="444.9" y2="291.35" stroke="#fff" stroke-width="0.8"/>
<line x1="265.6" y1="295.02" x2="444.9" y2="295.02" stroke="#fff" stroke-width="0.8"/>
<line x1="265.6" y1="298.7" x2="444.9" y2="298.7" stroke="#fff" stroke-width="0.8"/>
<line x1="265.6" y1="302.38" x2="444.9" y2="302.38" stroke="#fff" stroke-width="0.8"/>
<line x1="265.6" y1="306.05" x2="444.9" y2="306.05" stroke="#fff" stroke-width="0.8"/>
<line x1="265.6" y1="309.73" x2="444.9" y2="309.73" stroke="#fff" stroke-width="0.8"/>
<line x1="265.6" y1="313.4" x2="444.9" y2="313.4" stroke="#fff" stroke-width="0.8"/>
<line x1="265.6" y1="317.07" x2="444.9" y2="317.07" stroke="#fff" stroke-width="0.8"/>
<line x1="265.6" y1="320.75" x2="444.9" y2="320.75" stroke="#fff" stroke-width="0.8"/>
<line x1="265.6" y1="324.43" x2="444.9" y2="324.43" stroke="#fff" stroke-width="0.8"/>
<line x1="265.6" y1="328.1" x2="444.9" y2="328.1" stroke="#fff" stroke-width="0.8"/>
<line x1="265.6" y1="331.77" x2="444.9" y2="331.77" stroke="#fff" stroke-width="0.8"/>
<line x1="265.6" y1="335.45" x2="444.9" y2="335.45" stroke="#fff" stroke-width="0.8"/>
<line x1="265.6" y1="339.12" x2="444.9" y2="339.12" stroke="#fff" stroke-width="0.8"/>
<line x1="265.6" y1="342.8" x2="444.9" y2="342.8" stroke="#fff" stroke-width="0.8"/>
<line x1="265.6" y1="346.48" x2="444.9" y2="346.48" stroke="#fff" stroke-width="0.8"/>
<line x1="265.6" y1="350.15" x2="444.9" y2="350.15" stroke="#fff" stroke-width="0.8"/>
<line x1="265.6" y1="353.82" x2="444.9" y2="353.82" stroke="#fff" stroke-width="0.8"/>
<line x1="265.6" y1="357.5" x2="444.9" y2="357.5" stroke="#fff" stroke-width="0.8"/>
<line x1="265.6" y1="361.17" x2="444.9" y2="361.17" stroke="#fff" stroke-width="0.8"/>
<line x1="265.6" y1="364.85" x2="444.9" y2="364.85" stroke="#fff" stroke-width="0.8"/>
<line x1="265.6" y1="368.52" x2="444.9" y2="368.52" stroke="#fff" stroke-width="0.8"/>
<line x1="265.6" y1="372.2" x2="444.9" y2="372.2" stroke="#fff" stroke-width="0.8"/>
<line x1="265.6" y1="375.88" x2="444.9" y2="375.88" stroke="#fff" stroke-width="0.8"/>
<line x1="265.6" y1="379.55" x2="444.9" y2="379.55" stroke="#fff" stroke-width="0.8"/>
<line x1="265.6" y1="383.23" x2="444.9" y2="383.23" stroke="#fff" stroke-width="0.8"/>
<line x1="265.6" y1="386.9" x2="444.9" y2="386.9" stroke="#fff" stroke-width="0.8"/>
<line x1="265.6" y1="390.57" x2="444.9" y2="390.57" stroke="#fff" stroke-width="0.8"/>
<line x1="265.6" y1="394.25" x2="444.9" y2="394.25" stroke="#fff" stroke-width="0.8"/>
<line x1="265.6" y1="397.92" x2="444.9" y2="397.92" stroke="#fff" stroke-width="0.8"/>
<line x1="265.6" y1="401.6" x2="444.9" y2="401.6" stroke="#fff" stroke-width="0.8"/>
<line x1="265.6" y1="405.27" x2="444.9" y2="405.27" stroke="#fff" stroke-width="0.8"/>
<line x1="265.6" y1="408.95" x2="444.9" y2="408.95" stroke="#fff" stroke-width="0.8"/>
<line x1="265.6" y1="412.62" x2="444.9" y2="412.62" stroke="#fff" stroke-width="0.8"/>
<line x1="265.6" y1="416.3" x2="444.9" y2="416.3" stroke="#fff" stroke-width="0.8"/>
<line x1="265.6" y1="419.98" x2="444.9" y2="419.98" stroke="#fff" stroke-width="0.8"/>
<line x1="265.6" y1="423.65" x2="444.9" y2="423.65" stroke="#fff" stroke-width="0.8"/>
<line x1="265.6" y1="427.32" x2="444.9" y2="427.32" stroke="#fff" stroke-width="0.8"/>
<line x1="265.6" y1="431" x2="444.9" y2="431" stroke="#fff" stroke-width="0.8"/>
<line x1="265.6" y1="434.67" x2="444.9" y2="434.67" stroke="#fff" stroke-width="0.8"/>
<line x1="265.6" y1="438.35" x2="444.9" y2="438.35" stroke="#fff" stroke-width="0.8"/>
<line x1="265.6" y1="442.02" x2="444.9" y2="442.02" stroke="#fff" stroke-width="0.8"/>
<line x1="265.6" y1="445.7" x2="444.9" y2="445.7" stroke="#fff" stroke-width="0.8"/>
<line x1="265.6" y1="449.38" x2="444.9" y2="449.38" stroke="#fff" stroke-width="0.8"/>
<line x1="340.5" y1="252.3" x2="340.5" y2="451.6" stroke="#111" stroke-width="0.9" stroke-dasharray="0.9 1.8"/>
<line x1="314.5" y1="254.6" x2="436.5" y2="254.6" stroke="#858585" stroke-width="1"/>
<line x1="300" y1="258.27" x2="437" y2="258.27" stroke="#858585" stroke-width="1"/>
<line x1="291.8" y1="261.95" x2="431" y2="261.95" stroke="#858585" stroke-width="1"/>
<line x1="290.8" y1="265.62" x2="430.8" y2="265.62" stroke="#858585" stroke-width="1"/>
<line x1="290" y1="269.3" x2="430.1" y2="269.3" stroke="#858585" stroke-width="1"/>
<line x1="290" y1="272.98" x2="429.9" y2="272.98" stroke="#858585" stroke-width="1"/>
<line x1="289" y1="276.65" x2="429.7" y2="276.65" stroke="#858585" stroke-width="1"/>
<line x1="289" y1="280.32" x2="429.7" y2="280.32" stroke="#858585" stroke-width="1"/>
<line x1="288.3" y1="284" x2="429.7" y2="284" stroke="#858585" stroke-width="1"/>
<line x1="288.6" y1="287.68" x2="429.3" y2="287.68" stroke="#858585" stroke-width="1"/>
<line x1="288.7" y1="291.35" x2="429" y2="291.35" stroke="#858585" stroke-width="1"/>
<line x1="287.7" y1="295.02" x2="428.4" y2="295.02" stroke="#858585" stroke-width="1"/>
<line x1="287.2" y1="298.7" x2="428.8" y2="298.7" stroke="#858585" stroke-width="1"/>
<line x1="287.1" y1="302.38" x2="428.2" y2="302.38" stroke="#858585" stroke-width="1"/>
<line x1="286.4" y1="306.05" x2="427.8" y2="306.05" stroke="#858585" stroke-width="1"/>
<line x1="286.2" y1="309.73" x2="427.5" y2="309.73" stroke="#858585" stroke-width="1"/>
<line x1="286" y1="313.4" x2="427.4" y2="313.4" stroke="#858585" stroke-width="1"/>
<line x1="285.4" y1="317.07" x2="427.5" y2="317.07" stroke="#858585" stroke-width="1"/>
<line x1="285.7" y1="320.75" x2="427.1" y2="320.75" stroke="#858585" stroke-width="1"/>
<line x1="285.4" y1="324.43" x2="426.8" y2="324.43" stroke="#858585" stroke-width="1"/>
<line x1="285.4" y1="328.1" x2="426.8" y2="328.1" stroke="#858585" stroke-width="1"/>
<line x1="285.4" y1="331.77" x2="426.9" y2="331.77" stroke="#858585" stroke-width="1"/>
<line x1="285.4" y1="335.45" x2="426.8" y2="335.45" stroke="#858585" stroke-width="1"/>
<line x1="284.5" y1="339.12" x2="426.9" y2="339.12" stroke="#858585" stroke-width="1"/>
<line x1="284.9" y1="342.8" x2="426.1" y2="342.8" stroke="#858585" stroke-width="1"/>
<line x1="284.9" y1="346.48" x2="426.3" y2="346.48" stroke="#858585" stroke-width="1"/>
<line x1="284.9" y1="350.15" x2="425.9" y2="350.15" stroke="#858585" stroke-width="1"/>
<line x1="284.9" y1="353.82" x2="425.9" y2="353.82" stroke="#858585" stroke-width="1"/>
<line x1="284.5" y1="357.5" x2="425.9" y2="357.5" stroke="#858585" stroke-width="1"/>
<line x1="284.3" y1="361.17" x2="425.6" y2="361.17" stroke="#858585" stroke-width="1"/>
<line x1="284.2" y1="364.85" x2="425.6" y2="364.85" stroke="#858585" stroke-width="1"/>
<line x1="284.2" y1="368.52" x2="425" y2="368.52" stroke="#858585" stroke-width="1"/>
<line x1="284.2" y1="372.2" x2="425" y2="372.2" stroke="#858585" stroke-width="1"/>
<line x1="283.3" y1="375.88" x2="425.3" y2="375.88" stroke="#858585" stroke-width="1"/>
<line x1="282.4" y1="379.55" x2="424" y2="379.55" stroke="#858585" stroke-width="1"/>
<line x1="282.9" y1="383.23" x2="423.7" y2="383.23" stroke="#858585" stroke-width="1"/>
<line x1="282.6" y1="386.9" x2="423" y2="386.9" stroke="#858585" stroke-width="1"/>
<line x1="282.3" y1="390.57" x2="423" y2="390.57" stroke="#858585" stroke-width="1"/>
<line x1="282.3" y1="394.25" x2="423" y2="394.25" stroke="#858585" stroke-width="1"/>
<line x1="282.3" y1="397.92" x2="423" y2="397.92" stroke="#858585" stroke-width="1"/>
<line x1="282" y1="401.6" x2="423" y2="401.6" stroke="#858585" stroke-width="1"/>
<line x1="282" y1="405.27" x2="422.7" y2="405.27" stroke="#858585" stroke-width="1"/>
<line x1="281.4" y1="408.95" x2="422.1" y2="408.95" stroke="#858585" stroke-width="1"/>
<line x1="281" y1="412.62" x2="422.1" y2="412.62" stroke="#858585" stroke-width="1"/>
<line x1="281.2" y1="416.3" x2="421.8" y2="416.3" stroke="#858585" stroke-width="1"/>
<line x1="281" y1="419.98" x2="421.1" y2="419.98" stroke="#858585" stroke-width="1"/>
<line x1="280.5" y1="423.65" x2="420" y2="423.65" stroke="#858585" stroke-width="1"/>
<line x1="280.3" y1="427.32" x2="420.2" y2="427.32" stroke="#858585" stroke-width="1"/>
<line x1="280.3" y1="431" x2="419" y2="431" stroke="#858585" stroke-width="1"/>
<line x1="278.4" y1="434.67" x2="417.9" y2="434.67" stroke="#858585" stroke-width="1"/>
<line x1="277" y1="438.35" x2="407.2" y2="438.35" stroke="#858585" stroke-width="1"/>
<line x1="274.5" y1="442.02" x2="407.2" y2="442.02" stroke="#858585" stroke-width="1"/>
<line x1="265.6" y1="445.7" x2="444.9" y2="445.7" stroke="#BEBEBE" stroke-width="0.9"/>
<circle cx="374.7" cy="254.6" r="1.5" fill="#000"/>
<circle cx="368.6" cy="258.27" r="1.5" fill="#000"/>
<circle cx="361.6" cy="261.95" r="1.5" fill="#000"/>
<circle cx="360.7" cy="265.62" r="1.5" fill="#000"/>
<circle cx="360.2" cy="269.3" r="1.5" fill="#000"/>
<circle cx="360" cy="272.98" r="1.5" fill="#000"/>
<circle cx="359.5" cy="276.65" r="1.5" fill="#000"/>
<circle cx="359.3" cy="280.32" r="1.5" fill="#000"/>
<circle cx="359" cy="284" r="1.5" fill="#000"/>
<circle cx="359" cy="287.68" r="1.5" fill="#000"/>
<circle cx="358.9" cy="291.35" r="1.5" fill="#000"/>
<circle cx="358" cy="295.02" r="1.5" fill="#000"/>
<circle cx="357.9" cy="298.7" r="1.5" fill="#000"/>
<circle cx="357.73" cy="302.38" r="1.5" fill="#000"/>
<circle cx="357.57" cy="306.05" r="1.5" fill="#000"/>
<circle cx="357.4" cy="309.73" r="1.5" fill="#000"/>
<circle cx="357.23" cy="313.4" r="1.5" fill="#000"/>
<circle cx="357.07" cy="317.07" r="1.5" fill="#000"/>
<circle cx="356.9" cy="320.75" r="1.5" fill="#000"/>
<circle cx="356.73" cy="324.43" r="1.5" fill="#000"/>
<circle cx="356.57" cy="328.1" r="1.5" fill="#000"/>
<circle cx="356.4" cy="331.77" r="1.5" fill="#000"/>
<circle cx="356.23" cy="335.45" r="1.5" fill="#000"/>
<circle cx="356.07" cy="339.12" r="1.5" fill="#000"/>
<circle cx="355.9" cy="342.8" r="1.5" fill="#000"/>
<circle cx="355.73" cy="346.48" r="1.5" fill="#000"/>
<circle cx="355.57" cy="350.15" r="1.5" fill="#000"/>
<circle cx="355.4" cy="353.82" r="1.5" fill="#000"/>
<circle cx="355.2" cy="357.5" r="1.5" fill="#000"/>
<circle cx="355" cy="361.17" r="1.5" fill="#000"/>
<circle cx="354.8" cy="364.85" r="1.5" fill="#000"/>
<circle cx="354.6" cy="368.52" r="1.5" fill="#000"/>
<circle cx="354.4" cy="372.2" r="1.5" fill="#000"/>
<circle cx="354.2" cy="375.88" r="1.5" fill="#000"/>
<circle cx="354" cy="379.55" r="1.5" fill="#000"/>
<circle cx="353.8" cy="383.23" r="1.5" fill="#000"/>
<circle cx="353.6" cy="386.9" r="1.5" fill="#000"/>
<circle cx="353.4" cy="390.57" r="1.5" fill="#000"/>
<circle cx="353.2" cy="394.25" r="1.5" fill="#000"/>
<circle cx="352.92" cy="397.92" r="1.5" fill="#000"/>
<circle cx="352.64" cy="401.6" r="1.5" fill="#000"/>
<circle cx="352.36" cy="405.27" r="1.5" fill="#000"/>
<circle cx="352.08" cy="408.95" r="1.5" fill="#000"/>
<circle cx="351.8" cy="412.62" r="1.5" fill="#000"/>
<circle cx="351.6" cy="416.3" r="1.5" fill="#000"/>
<circle cx="350.9" cy="419.98" r="1.5" fill="#000"/>
<circle cx="350.2" cy="423.65" r="1.5" fill="#000"/>
<circle cx="349.9" cy="427.32" r="1.5" fill="#000"/>
<circle cx="349.4" cy="431" r="1.5" fill="#000"/>
<circle cx="347.9" cy="434.67" r="1.5" fill="#000"/>
<circle cx="341.8" cy="438.35" r="1.5" fill="#000"/>
<circle cx="340.7" cy="442.02" r="1.5" fill="#000"/>
<line x1="285.9" y1="449.38" x2="425" y2="449.38" stroke="#ff2a1a" stroke-width="1.5"/>
<circle cx="355.2" cy="449.38" r="1.5" fill="#ff2a1a"/>
<text x="263" y="257.21" font-size="5.05" text-anchor="end" fill="#4D4D4D" stroke="#4D4D4D" stroke-width="0.13" transform="translate(0 -15.324) scale(1 1.06)">rs174587</text>
<line x1="263.8" y1="254.6" x2="265.6" y2="254.6" stroke="#9a9a9a" stroke-width="0.5"/>
<text x="263" y="260.88" font-size="5.05" text-anchor="end" fill="#4D4D4D" stroke="#4D4D4D" stroke-width="0.13" transform="translate(0 -15.545) scale(1 1.06)">rs3756533</text>
<line x1="263.8" y1="258.27" x2="265.6" y2="258.27" stroke="#9a9a9a" stroke-width="0.5"/>
<text x="263" y="264.56" font-size="5.05" text-anchor="end" fill="#4D4D4D" stroke="#4D4D4D" stroke-width="0.13" transform="translate(0 -15.765) scale(1 1.06)">rs6807302</text>
<line x1="263.8" y1="261.95" x2="265.6" y2="261.95" stroke="#9a9a9a" stroke-width="0.5"/>
<text x="263" y="268.23" font-size="5.05" text-anchor="end" fill="#4D4D4D" stroke="#4D4D4D" stroke-width="0.13" transform="translate(0 -15.986) scale(1 1.06)">rs17368193</text>
<line x1="263.8" y1="265.62" x2="265.6" y2="265.62" stroke="#9a9a9a" stroke-width="0.5"/>
<text x="263" y="271.91" font-size="5.05" text-anchor="end" fill="#4D4D4D" stroke="#4D4D4D" stroke-width="0.13" transform="translate(0 -16.206) scale(1 1.06)">rs13642621</text>
<line x1="263.8" y1="269.3" x2="265.6" y2="269.3" stroke="#9a9a9a" stroke-width="0.5"/>
<text x="263" y="275.58" font-size="5.05" text-anchor="end" fill="#4D4D4D" stroke="#4D4D4D" stroke-width="0.13" transform="translate(0 -16.427) scale(1 1.06)">rs19722003</text>
<line x1="263.8" y1="272.98" x2="265.6" y2="272.98" stroke="#9a9a9a" stroke-width="0.5"/>
<text x="263" y="279.26" font-size="5.05" text-anchor="end" fill="#4D4D4D" stroke="#4D4D4D" stroke-width="0.13" transform="translate(0 -16.647) scale(1 1.06)">rs324538</text>
<line x1="263.8" y1="276.65" x2="265.6" y2="276.65" stroke="#9a9a9a" stroke-width="0.5"/>
<text x="263" y="282.93" font-size="5.05" text-anchor="end" fill="#4D4D4D" stroke="#4D4D4D" stroke-width="0.13" transform="translate(0 -16.868) scale(1 1.06)">rs423640</text>
<line x1="263.8" y1="280.32" x2="265.6" y2="280.32" stroke="#9a9a9a" stroke-width="0.5"/>
<text x="263" y="286.61" font-size="5.05" text-anchor="end" fill="#4D4D4D" stroke="#4D4D4D" stroke-width="0.13" transform="translate(0 -17.088) scale(1 1.06)">rs3241549</text>
<line x1="263.8" y1="284" x2="265.6" y2="284" stroke="#9a9a9a" stroke-width="0.5"/>
<text x="263" y="290.28" font-size="5.05" text-anchor="end" fill="#4D4D4D" stroke="#4D4D4D" stroke-width="0.13" transform="translate(0 -17.309) scale(1 1.06)">rs6145475</text>
<line x1="263.8" y1="287.68" x2="265.6" y2="287.68" stroke="#9a9a9a" stroke-width="0.5"/>
<text x="263" y="293.96" font-size="5.05" text-anchor="end" fill="#4D4D4D" stroke="#4D4D4D" stroke-width="0.13" transform="translate(0 -17.529) scale(1 1.06)">rs17204056</text>
<line x1="263.8" y1="291.35" x2="265.6" y2="291.35" stroke="#9a9a9a" stroke-width="0.5"/>
<text x="263" y="297.63" font-size="5.05" text-anchor="end" fill="#4D4D4D" stroke="#4D4D4D" stroke-width="0.13" transform="translate(0 -17.750) scale(1 1.06)">rs16569070</text>
<line x1="263.8" y1="295.02" x2="265.6" y2="295.02" stroke="#9a9a9a" stroke-width="0.5"/>
<text x="263" y="301.31" font-size="5.05" text-anchor="end" fill="#4D4D4D" stroke="#4D4D4D" stroke-width="0.13" transform="translate(0 -17.970) scale(1 1.06)">rs413758</text>
<line x1="263.8" y1="298.7" x2="265.6" y2="298.7" stroke="#9a9a9a" stroke-width="0.5"/>
<text x="263" y="304.98" font-size="5.05" text-anchor="end" fill="#4D4D4D" stroke="#4D4D4D" stroke-width="0.13" transform="translate(0 -18.191) scale(1 1.06)">rs9471954</text>
<line x1="263.8" y1="302.38" x2="265.6" y2="302.38" stroke="#9a9a9a" stroke-width="0.5"/>
<text x="263" y="308.66" font-size="5.05" text-anchor="end" fill="#4D4D4D" stroke="#4D4D4D" stroke-width="0.13" transform="translate(0 -18.411) scale(1 1.06)">rs11358952</text>
<line x1="263.8" y1="306.05" x2="265.6" y2="306.05" stroke="#9a9a9a" stroke-width="0.5"/>
<text x="263" y="312.33" font-size="5.05" text-anchor="end" fill="#4D4D4D" stroke="#4D4D4D" stroke-width="0.13" transform="translate(0 -18.632) scale(1 1.06)">rs9145421</text>
<line x1="263.8" y1="309.73" x2="265.6" y2="309.73" stroke="#9a9a9a" stroke-width="0.5"/>
<text x="263" y="316.01" font-size="5.05" text-anchor="end" fill="#4D4D4D" stroke="#4D4D4D" stroke-width="0.13" transform="translate(0 -18.852) scale(1 1.06)">rs5720198</text>
<line x1="263.8" y1="313.4" x2="265.6" y2="313.4" stroke="#9a9a9a" stroke-width="0.5"/>
<text x="263" y="319.68" font-size="5.05" text-anchor="end" fill="#4D4D4D" stroke="#4D4D4D" stroke-width="0.13" transform="translate(0 -19.073) scale(1 1.06)">rs139547</text>
<line x1="263.8" y1="317.07" x2="265.6" y2="317.07" stroke="#9a9a9a" stroke-width="0.5"/>
<text x="263" y="323.36" font-size="5.05" text-anchor="end" fill="#4D4D4D" stroke="#4D4D4D" stroke-width="0.13" transform="translate(0 -19.293) scale(1 1.06)">rs300753</text>
<line x1="263.8" y1="320.75" x2="265.6" y2="320.75" stroke="#9a9a9a" stroke-width="0.5"/>
<text x="263" y="327.03" font-size="5.05" text-anchor="end" fill="#4D4D4D" stroke="#4D4D4D" stroke-width="0.13" transform="translate(0 -19.514) scale(1 1.06)">rs19261265</text>
<line x1="263.8" y1="324.43" x2="265.6" y2="324.43" stroke="#9a9a9a" stroke-width="0.5"/>
<text x="263" y="330.71" font-size="5.05" text-anchor="end" fill="#4D4D4D" stroke="#4D4D4D" stroke-width="0.13" transform="translate(0 -19.734) scale(1 1.06)">rs16427928</text>
<line x1="263.8" y1="328.1" x2="265.6" y2="328.1" stroke="#9a9a9a" stroke-width="0.5"/>
<text x="263" y="334.38" font-size="5.05" text-anchor="end" fill="#4D4D4D" stroke="#4D4D4D" stroke-width="0.13" transform="translate(0 -19.955) scale(1 1.06)">rs8574476</text>
<line x1="263.8" y1="331.77" x2="265.6" y2="331.77" stroke="#9a9a9a" stroke-width="0.5"/>
<text x="263" y="338.06" font-size="5.05" text-anchor="end" fill="#4D4D4D" stroke="#4D4D4D" stroke-width="0.13" transform="translate(0 -20.175) scale(1 1.06)">rs268275</text>
<line x1="263.8" y1="335.45" x2="265.6" y2="335.45" stroke="#9a9a9a" stroke-width="0.5"/>
<text x="263" y="341.73" font-size="5.05" text-anchor="end" fill="#4D4D4D" stroke="#4D4D4D" stroke-width="0.13" transform="translate(0 -20.396) scale(1 1.06)">rs17488851</text>
<line x1="263.8" y1="339.12" x2="265.6" y2="339.12" stroke="#9a9a9a" stroke-width="0.5"/>
<text x="263" y="345.41" font-size="5.05" text-anchor="end" fill="#4D4D4D" stroke="#4D4D4D" stroke-width="0.13" transform="translate(0 -20.616) scale(1 1.06)">rs690458</text>
<line x1="263.8" y1="342.8" x2="265.6" y2="342.8" stroke="#9a9a9a" stroke-width="0.5"/>
<text x="263" y="349.08" font-size="5.05" text-anchor="end" fill="#4D4D4D" stroke="#4D4D4D" stroke-width="0.13" transform="translate(0 -20.837) scale(1 1.06)">rs574452</text>
<line x1="263.8" y1="346.48" x2="265.6" y2="346.48" stroke="#9a9a9a" stroke-width="0.5"/>
<text x="263" y="352.76" font-size="5.05" text-anchor="end" fill="#4D4D4D" stroke="#4D4D4D" stroke-width="0.13" transform="translate(0 -21.057) scale(1 1.06)">rs1784547</text>
<line x1="263.8" y1="350.15" x2="265.6" y2="350.15" stroke="#9a9a9a" stroke-width="0.5"/>
<text x="263" y="356.43" font-size="5.05" text-anchor="end" fill="#4D4D4D" stroke="#4D4D4D" stroke-width="0.13" transform="translate(0 -21.278) scale(1 1.06)">rs9554565</text>
<line x1="263.8" y1="353.82" x2="265.6" y2="353.82" stroke="#9a9a9a" stroke-width="0.5"/>
<text x="263" y="360.11" font-size="5.05" text-anchor="end" fill="#4D4D4D" stroke="#4D4D4D" stroke-width="0.13" transform="translate(0 -21.498) scale(1 1.06)">rs375582</text>
<line x1="263.8" y1="357.5" x2="265.6" y2="357.5" stroke="#9a9a9a" stroke-width="0.5"/>
<text x="263" y="363.78" font-size="5.05" text-anchor="end" fill="#4D4D4D" stroke="#4D4D4D" stroke-width="0.13" transform="translate(0 -21.719) scale(1 1.06)">rs3357416</text>
<line x1="263.8" y1="361.17" x2="265.6" y2="361.17" stroke="#9a9a9a" stroke-width="0.5"/>
<text x="263" y="367.46" font-size="5.05" text-anchor="end" fill="#4D4D4D" stroke="#4D4D4D" stroke-width="0.13" transform="translate(0 -21.939) scale(1 1.06)">rs19864984</text>
<line x1="263.8" y1="364.85" x2="265.6" y2="364.85" stroke="#9a9a9a" stroke-width="0.5"/>
<text x="263" y="371.13" font-size="5.05" text-anchor="end" fill="#4D4D4D" stroke="#4D4D4D" stroke-width="0.13" transform="translate(0 -22.160) scale(1 1.06)">rs132979</text>
<line x1="263.8" y1="368.52" x2="265.6" y2="368.52" stroke="#9a9a9a" stroke-width="0.5"/>
<text x="263" y="374.81" font-size="5.05" text-anchor="end" fill="#4D4D4D" stroke="#4D4D4D" stroke-width="0.13" transform="translate(0 -22.380) scale(1 1.06)">rs420732</text>
<line x1="263.8" y1="372.2" x2="265.6" y2="372.2" stroke="#9a9a9a" stroke-width="0.5"/>
<text x="263" y="378.48" font-size="5.05" text-anchor="end" fill="#4D4D4D" stroke="#4D4D4D" stroke-width="0.13" transform="translate(0 -22.601) scale(1 1.06)">rs12152738</text>
<line x1="263.8" y1="375.88" x2="265.6" y2="375.88" stroke="#9a9a9a" stroke-width="0.5"/>
<text x="263" y="382.16" font-size="5.05" text-anchor="end" fill="#4D4D4D" stroke="#4D4D4D" stroke-width="0.13" transform="translate(0 -22.821) scale(1 1.06)">rs17569193</text>
<line x1="263.8" y1="379.55" x2="265.6" y2="379.55" stroke="#9a9a9a" stroke-width="0.5"/>
<text x="263" y="385.83" font-size="5.05" text-anchor="end" fill="#4D4D4D" stroke="#4D4D4D" stroke-width="0.13" transform="translate(0 -23.042) scale(1 1.06)">rs6056461</text>
<line x1="263.8" y1="383.23" x2="265.6" y2="383.23" stroke="#9a9a9a" stroke-width="0.5"/>
<text x="263" y="389.51" font-size="5.05" text-anchor="end" fill="#4D4D4D" stroke="#4D4D4D" stroke-width="0.13" transform="translate(0 -23.262) scale(1 1.06)">rs950894</text>
<line x1="263.8" y1="386.9" x2="265.6" y2="386.9" stroke="#9a9a9a" stroke-width="0.5"/>
<text x="263" y="393.18" font-size="5.05" text-anchor="end" fill="#4D4D4D" stroke="#4D4D4D" stroke-width="0.13" transform="translate(0 -23.483) scale(1 1.06)">rs18859452</text>
<line x1="263.8" y1="390.57" x2="265.6" y2="390.57" stroke="#9a9a9a" stroke-width="0.5"/>
<text x="263" y="396.86" font-size="5.05" text-anchor="end" fill="#4D4D4D" stroke="#4D4D4D" stroke-width="0.13" transform="translate(0 -23.703) scale(1 1.06)">rs9572296</text>
<line x1="263.8" y1="394.25" x2="265.6" y2="394.25" stroke="#9a9a9a" stroke-width="0.5"/>
<text x="263" y="400.53" font-size="5.05" text-anchor="end" fill="#4D4D4D" stroke="#4D4D4D" stroke-width="0.13" transform="translate(0 -23.924) scale(1 1.06)">rs4291506</text>
<line x1="263.8" y1="397.92" x2="265.6" y2="397.92" stroke="#9a9a9a" stroke-width="0.5"/>
<text x="263" y="404.21" font-size="5.05" text-anchor="end" fill="#4D4D4D" stroke="#4D4D4D" stroke-width="0.13" transform="translate(0 -24.144) scale(1 1.06)">rs19982596</text>
<line x1="263.8" y1="401.6" x2="265.6" y2="401.6" stroke="#9a9a9a" stroke-width="0.5"/>
<text x="263" y="407.88" font-size="5.05" text-anchor="end" fill="#4D4D4D" stroke="#4D4D4D" stroke-width="0.13" transform="translate(0 -24.365) scale(1 1.06)">rs4747662</text>
<line x1="263.8" y1="405.27" x2="265.6" y2="405.27" stroke="#9a9a9a" stroke-width="0.5"/>
<text x="263" y="411.56" font-size="5.05" text-anchor="end" fill="#4D4D4D" stroke="#4D4D4D" stroke-width="0.13" transform="translate(0 -24.585) scale(1 1.06)">rs5474605</text>
<line x1="263.8" y1="408.95" x2="265.6" y2="408.95" stroke="#9a9a9a" stroke-width="0.5"/>
<text x="263" y="415.23" font-size="5.05" text-anchor="end" fill="#4D4D4D" stroke="#4D4D4D" stroke-width="0.13" transform="translate(0 -24.806) scale(1 1.06)">rs574270</text>
<line x1="263.8" y1="412.62" x2="265.6" y2="412.62" stroke="#9a9a9a" stroke-width="0.5"/>
<text x="263" y="418.91" font-size="5.05" text-anchor="end" fill="#4D4D4D" stroke="#4D4D4D" stroke-width="0.13" transform="translate(0 -25.026) scale(1 1.06)">rs19734026</text>
<line x1="263.8" y1="416.3" x2="265.6" y2="416.3" stroke="#9a9a9a" stroke-width="0.5"/>
<text x="263" y="422.58" font-size="5.05" text-anchor="end" fill="#4D4D4D" stroke="#4D4D4D" stroke-width="0.13" transform="translate(0 -25.247) scale(1 1.06)">rs18843703</text>
<line x1="263.8" y1="419.98" x2="265.6" y2="419.98" stroke="#9a9a9a" stroke-width="0.5"/>
<text x="263" y="426.26" font-size="5.05" text-anchor="end" fill="#4D4D4D" stroke="#4D4D4D" stroke-width="0.13" transform="translate(0 -25.467) scale(1 1.06)">rs3447978</text>
<line x1="263.8" y1="423.65" x2="265.6" y2="423.65" stroke="#9a9a9a" stroke-width="0.5"/>
<text x="263" y="429.93" font-size="5.05" text-anchor="end" fill="#4D4D4D" stroke="#4D4D4D" stroke-width="0.13" transform="translate(0 -25.688) scale(1 1.06)">rs2024485</text>
<line x1="263.8" y1="427.32" x2="265.6" y2="427.32" stroke="#9a9a9a" stroke-width="0.5"/>
<text x="263" y="433.61" font-size="5.05" text-anchor="end" fill="#4D4D4D" stroke="#4D4D4D" stroke-width="0.13" transform="translate(0 -25.908) scale(1 1.06)">rs9075592</text>
<line x1="263.8" y1="431" x2="265.6" y2="431" stroke="#9a9a9a" stroke-width="0.5"/>
<text x="263" y="437.28" font-size="5.05" text-anchor="end" fill="#4D4D4D" stroke="#4D4D4D" stroke-width="0.13" transform="translate(0 -26.129) scale(1 1.06)">rs14871830</text>
<line x1="263.8" y1="434.67" x2="265.6" y2="434.67" stroke="#9a9a9a" stroke-width="0.5"/>
<text x="263" y="440.96" font-size="5.05" text-anchor="end" fill="#4D4D4D" stroke="#4D4D4D" stroke-width="0.13" transform="translate(0 -26.349) scale(1 1.06)">rs7997676</text>
<line x1="263.8" y1="438.35" x2="265.6" y2="438.35" stroke="#9a9a9a" stroke-width="0.5"/>
<text x="263" y="444.63" font-size="5.05" text-anchor="end" fill="#4D4D4D" stroke="#4D4D4D" stroke-width="0.13" transform="translate(0 -26.570) scale(1 1.06)">rs35476873</text>
<line x1="263.8" y1="442.02" x2="265.6" y2="442.02" stroke="#9a9a9a" stroke-width="0.5"/>
<text x="263" y="451.5" font-size="5.1" text-anchor="end" fill="#4D4D4D" stroke="#4D4D4D" stroke-width="0.04" transform="translate(0 -26.981) scale(1 1.06)">All</text>
<line x1="263.8" y1="449.38" x2="265.6" y2="449.38" stroke="#9a9a9a" stroke-width="0.5"/>
<text x="287.4" y="459" font-size="5.6" text-anchor="middle" fill="#4D4D4D" stroke="#4D4D4D" stroke-width="0.04" transform="translate(0 -27.420) scale(1 1.06)">−0.05</text>
<line x1="287.4" y1="451.6" x2="287.4" y2="453.9" stroke="#333333" stroke-width="0.6"/>
<text x="340.5" y="459" font-size="5.6" text-anchor="middle" fill="#4D4D4D" stroke="#4D4D4D" stroke-width="0.04" transform="translate(0 -27.420) scale(1 1.06)">0.00</text>
<line x1="340.5" y1="451.6" x2="340.5" y2="453.9" stroke="#333333" stroke-width="0.6"/>
<text x="393.6" y="459" font-size="5.6" text-anchor="middle" fill="#4D4D4D" stroke="#4D4D4D" stroke-width="0.04" transform="translate(0 -27.420) scale(1 1.06)">0.05</text>
<line x1="393.6" y1="451.6" x2="393.6" y2="453.9" stroke="#333333" stroke-width="0.6"/>
<text x="360.3" y="466.49" font-size="7.23" text-anchor="middle" fill="#000" stroke="#000" stroke-width="0.13" font-weight="bold" transform="translate(0 -27.834) scale(1 1.06)">MR leave-one-out sensitivity analysis for</text>
<text x="359.9" y="474.49" font-size="7.23" text-anchor="middle" fill="#000" stroke="#000" stroke-width="0.13" font-weight="bold" transform="translate(0 -28.314) scale(1 1.06)">‘bipolar disorder’ on ‘ALPS’</text>
<text x="461.2" y="248.2" font-size="16.6" text-anchor="start" fill="#000" stroke="#000" stroke-width="0.13" font-weight="bold" transform="translate(0 -14.535) scale(1 1.06)">F</text>
<rect x="482.2" y="287.3" width="196.2" height="150.3" fill="#EBECEB"/>
<line x1="510.84" y1="287.3" x2="510.84" y2="437.6" stroke="#fff" stroke-width="0.4"/>
<line x1="559.88" y1="287.3" x2="559.88" y2="437.6" stroke="#fff" stroke-width="0.4"/>
<line x1="608.92" y1="287.3" x2="608.92" y2="437.6" stroke="#fff" stroke-width="0.4"/>
<line x1="657.96" y1="287.3" x2="657.96" y2="437.6" stroke="#fff" stroke-width="0.4"/>
<line x1="482.2" y1="294.07" x2="678.4" y2="294.07" stroke="#fff" stroke-width="0.4"/>
<line x1="482.2" y1="335.42" x2="678.4" y2="335.42" stroke="#fff" stroke-width="0.4"/>
<line x1="482.2" y1="376.77" x2="678.4" y2="376.77" stroke="#fff" stroke-width="0.4"/>
<line x1="482.2" y1="418.12" x2="678.4" y2="418.12" stroke="#fff" stroke-width="0.4"/>
<line x1="486.32" y1="287.3" x2="486.32" y2="437.6" stroke="#fff" stroke-width="0.8"/>
<line x1="535.36" y1="287.3" x2="535.36" y2="437.6" stroke="#fff" stroke-width="0.8"/>
<line x1="584.4" y1="287.3" x2="584.4" y2="437.6" stroke="#fff" stroke-width="0.8"/>
<line x1="633.44" y1="287.3" x2="633.44" y2="437.6" stroke="#fff" stroke-width="0.8"/>
<line x1="482.2" y1="314.75" x2="678.4" y2="314.75" stroke="#fff" stroke-width="0.8"/>
<line x1="482.2" y1="356.1" x2="678.4" y2="356.1" stroke="#fff" stroke-width="0.8"/>
<line x1="482.2" y1="397.45" x2="678.4" y2="397.45" stroke="#fff" stroke-width="0.8"/>
<circle cx="584.3" cy="294.2" r="1.6" fill="#000"/>
<circle cx="589.8" cy="301.7" r="1.6" fill="#000"/>
<circle cx="541.3" cy="311.3" r="1.6" fill="#000"/>
<circle cx="582.5" cy="323.9" r="1.6" fill="#000"/>
<circle cx="650.3" cy="352.1" r="1.6" fill="#000"/>
<circle cx="588.2" cy="355.4" r="1.6" fill="#000"/>
<circle cx="620.3" cy="360.3" r="1.6" fill="#000"/>
<circle cx="491.1" cy="361.2" r="1.6" fill="#000"/>
<circle cx="567.4" cy="370.4" r="1.6" fill="#000"/>
<circle cx="596.6" cy="368.1" r="1.6" fill="#000"/>
<circle cx="572.4" cy="375.6" r="1.6" fill="#000"/>
<circle cx="613.3" cy="373.1" r="1.6" fill="#000"/>
<circle cx="584.5" cy="379.7" r="1.6" fill="#000"/>
<circle cx="551" cy="386.4" r="1.6" fill="#000"/>
<circle cx="565.4" cy="384.6" r="1.6" fill="#000"/>
<circle cx="563.7" cy="388" r="1.6" fill="#000"/>
<circle cx="557.5" cy="390.8" r="1.6" fill="#000"/>
<circle cx="577" cy="389.1" r="1.6" fill="#000"/>
<circle cx="585" cy="389.9" r="1.6" fill="#000"/>
<circle cx="572" cy="392.6" r="1.6" fill="#000"/>
<circle cx="608.2" cy="391" r="1.6" fill="#000"/>
<circle cx="668.9" cy="396.8" r="1.6" fill="#000"/>
<circle cx="552.8" cy="396.3" r="1.6" fill="#000"/>
<circle cx="604.7" cy="397.5" r="1.6" fill="#000"/>
<circle cx="603.4" cy="399" r="1.6" fill="#000"/>
<circle cx="608.3" cy="400.6" r="1.6" fill="#000"/>
<circle cx="577.4" cy="401.8" r="1.6" fill="#000"/>
<circle cx="590.9" cy="401.8" r="1.6" fill="#000"/>
<circle cx="559.7" cy="404.7" r="1.6" fill="#000"/>
<circle cx="581.1" cy="406" r="1.6" fill="#000"/>
<circle cx="604.8" cy="405.5" r="1.6" fill="#000"/>
<circle cx="612.4" cy="408.1" r="1.6" fill="#000"/>
<circle cx="579.7" cy="409.5" r="1.6" fill="#000"/>
<circle cx="607.4" cy="409.9" r="1.6" fill="#000"/>
<circle cx="553.1" cy="412" r="1.6" fill="#000"/>
<circle cx="560.8" cy="411.8" r="1.6" fill="#000"/>
<circle cx="567.7" cy="411.4" r="1.6" fill="#000"/>
<circle cx="581.1" cy="412.2" r="1.6" fill="#000"/>
<circle cx="583.9" cy="412.3" r="1.6" fill="#000"/>
<circle cx="587.9" cy="411" r="1.6" fill="#000"/>
<circle cx="618.3" cy="414.4" r="1.6" fill="#000"/>
<circle cx="623.1" cy="414.3" r="1.6" fill="#000"/>
<circle cx="591.4" cy="415.7" r="1.6" fill="#000"/>
<circle cx="587.2" cy="416.4" r="1.6" fill="#000"/>
<circle cx="602.4" cy="416.4" r="1.6" fill="#000"/>
<circle cx="606.8" cy="417.4" r="1.6" fill="#000"/>
<circle cx="584.6" cy="418.9" r="1.6" fill="#000"/>
<circle cx="630.6" cy="419.3" r="1.6" fill="#000"/>
<circle cx="580.6" cy="422.1" r="1.6" fill="#000"/>
<circle cx="574.1" cy="425" r="1.6" fill="#000"/>
<circle cx="606.7" cy="430.7" r="1.6" fill="#000"/>
<line x1="587" y1="287.3" x2="587" y2="437.6" stroke="#a6cee3" stroke-width="2" stroke-opacity="0.55"/>
<line x1="588.45" y1="287.3" x2="588.45" y2="437.6" stroke="#1f78b4" stroke-width="1.1" stroke-opacity="0.42"/>
<text x="479.6" y="316.75" font-size="5.6" text-anchor="end" fill="#4D4D4D" stroke="#4D4D4D" stroke-width="0.04" transform="translate(0 -18.885) scale(1 1.06)">8</text>
<line x1="480.4" y1="314.75" x2="482.2" y2="314.75" stroke="#333333" stroke-width="0.6"/>
<text x="479.6" y="358.1" font-size="5.6" text-anchor="end" fill="#4D4D4D" stroke="#4D4D4D" stroke-width="0.04" transform="translate(0 -21.366) scale(1 1.06)">7</text>
<line x1="480.4" y1="356.1" x2="482.2" y2="356.1" stroke="#333333" stroke-width="0.6"/>
<text x="479.6" y="399.45" font-size="5.6" text-anchor="end" fill="#4D4D4D" stroke="#4D4D4D" stroke-width="0.04" transform="translate(0 -23.847) scale(1 1.06)">6</text>
<line x1="480.4" y1="397.45" x2="482.2" y2="397.45" stroke="#333333" stroke-width="0.6"/>
<text x="486.32" y="445" font-size="5.6" text-anchor="middle" fill="#4D4D4D" stroke="#4D4D4D" stroke-width="0.04" transform="translate(0 -26.580) scale(1 1.06)">−0.8</text>
<line x1="486.32" y1="437.6" x2="486.32" y2="439.9" stroke="#333333" stroke-width="0.6"/>
<text x="535.36" y="445" font-size="5.6" text-anchor="middle" fill="#4D4D4D" stroke="#4D4D4D" stroke-width="0.04" transform="translate(0 -26.580) scale(1 1.06)">−0.4</text>
<line x1="535.36" y1="437.6" x2="535.36" y2="439.9" stroke="#333333" stroke-width="0.6"/>
<text x="584.4" y="445" font-size="5.6" text-anchor="middle" fill="#4D4D4D" stroke="#4D4D4D" stroke-width="0.04" transform="translate(0 -26.580) scale(1 1.06)">0.0</text>
<line x1="584.4" y1="437.6" x2="584.4" y2="439.9" stroke="#333333" stroke-width="0.6"/>
<text x="633.44" y="445" font-size="5.6" text-anchor="middle" fill="#4D4D4D" stroke="#4D4D4D" stroke-width="0.04" transform="translate(0 -26.580) scale(1 1.06)">0.4</text>
<line x1="633.44" y1="437.6" x2="633.44" y2="439.9" stroke="#333333" stroke-width="0.6"/>
<text x="542" y="252.8" font-size="6.6" text-anchor="start" fill="#000" stroke="#000" stroke-width="0.13" transform="translate(0 -15.026) scale(1 1.06)">MR Method</text>
<rect x="542" y="256.4" width="9.8" height="21.3" fill="#F2F2F2"/>
<line x1="546.9" y1="257" x2="546.9" y2="266.45" stroke="#a6cee3" stroke-width="0.9"/>
<line x1="546.9" y1="267.65" x2="546.9" y2="277.1" stroke="#1f78b4" stroke-width="0.9"/>
<text x="555.4" y="263.66" font-size="5.4" text-anchor="start" fill="#000" stroke="#000" stroke-width="0.13" transform="translate(0 -15.704) scale(1 1.06)">Inverse variance weighted</text>
<text x="555.4" y="274.31" font-size="5.4" text-anchor="start" fill="#000" stroke="#000" stroke-width="0.13" transform="translate(0 -16.343) scale(1 1.06)">MR Egger</text>
<text transform="translate(472.3,362.5) rotate(-90)" font-size="7.8" text-anchor="middle" fill="#000">1/SE<tspan font-size="4.9" font-style="italic" dy="1.1">IV</tspan></text>
<text x="580.5" y="451.8" font-size="7.0" text-anchor="middle" fill="#222" stroke="#222" stroke-width="0.1">β<tspan font-size="5.6" dy="1.5">IV</tspan></text>
<text x="585.9" y="467.39" font-size="7.23" text-anchor="middle" fill="#000" stroke="#000" stroke-width="0.13" font-weight="bold" transform="translate(0 -27.888) scale(1 1.06)">Funnel plot for ‘bipolar disorder’ on ‘ALPS’</text>
</svg>
</body></html>
